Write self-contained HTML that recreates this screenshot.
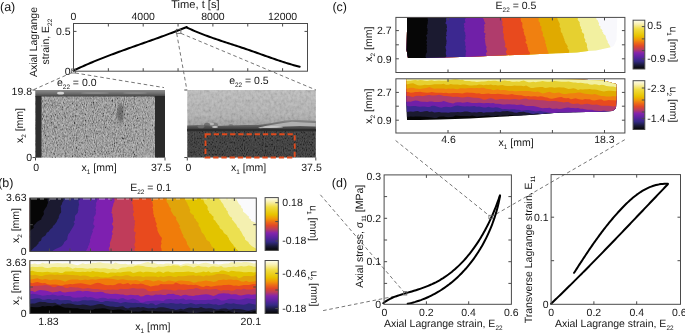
<!DOCTYPE html>
<html><head><meta charset="utf-8"><style>
html,body{margin:0;padding:0;background:#fff;}
svg{display:block;font-family:"Liberation Sans", sans-serif;text-rendering:geometricPrecision;will-change:transform;}
</style></head><body>
<svg width="685" height="333" viewBox="0 0 685 333">
<defs>
<linearGradient id="g2" x1="0" y1="0" x2="0" y2="1">
<stop offset="0" stop-color="#bababa"/><stop offset="0.6" stop-color="#acacac"/><stop offset="0.85" stop-color="#989898"/><stop offset="1" stop-color="#606060"/>
</linearGradient>
<linearGradient id="g1" x1="0" y1="0" x2="0" y2="1">
<stop offset="0" stop-color="#8a8a8a"/><stop offset="0.5" stop-color="#707070"/><stop offset="0.8" stop-color="#555"/><stop offset="1" stop-color="#404040"/>
</linearGradient>
<linearGradient id="g3" x1="0" y1="0" x2="0" y2="1">
<stop offset="0" stop-color="#8e8e8e"/><stop offset="0.45" stop-color="#6a6a6a"/><stop offset="0.8" stop-color="#404040"/><stop offset="1" stop-color="#2e2e2e"/>
</linearGradient>
<filter id="n1" x="0" y="0" width="100%" height="100%"><feTurbulence type="fractalNoise" baseFrequency="1.1 0.45" numOctaves="2" seed="3"/><feColorMatrix type="matrix" values="1.6 0 0 0 -0.3  1.6 0 0 0 -0.3  1.6 0 0 0 -0.3  0 0 0 0 1"/></filter>
<filter id="n2" x="0" y="0" width="100%" height="100%"><feTurbulence type="fractalNoise" baseFrequency="0.35 0.3" numOctaves="2" seed="8"/><feColorMatrix type="matrix" values="1.6 0 0 0 -0.2  1.6 0 0 0 -0.2  1.6 0 0 0 -0.2  0 0 0 0 1"/></filter>
<filter id="n3" x="0" y="0" width="100%" height="100%"><feTurbulence type="fractalNoise" baseFrequency="1.1 0.5" numOctaves="2" seed="11"/><feColorMatrix type="matrix" values="1.8 0 0 0 -0.5  1.8 0 0 0 -0.5  1.8 0 0 0 -0.5  0 0 0 0 1"/></filter>
<filter id="bl"><feGaussianBlur stdDeviation="1.2"/></filter>
<linearGradient id="cb" x1="0" y1="0" x2="0" y2="1">
<stop offset="0" stop-color="#fefef0"/><stop offset="0.08" stop-color="#f8f0b0"/><stop offset="0.18" stop-color="#f0dc40"/><stop offset="0.32" stop-color="#e8c400"/><stop offset="0.40" stop-color="#f09808"/><stop offset="0.47" stop-color="#ec6818"/><stop offset="0.53" stop-color="#e04828"/><stop offset="0.60" stop-color="#b83c60"/><stop offset="0.67" stop-color="#8424ac"/><stop offset="0.76" stop-color="#5a24a0"/><stop offset="0.84" stop-color="#342a84"/><stop offset="0.92" stop-color="#1a1a38"/><stop offset="1" stop-color="#050505"/>
</linearGradient>
</defs>
<text x="0.0" y="11.4" font-size="12.5" text-anchor="start" fill="#161616" >(a)</text>
<path d="M73.42,70.63 L75.29,69.75 L77.15,68.87 L79.02,68.01 L80.90,67.16 L82.78,66.31 L84.66,65.48 L86.55,64.66 L88.44,63.84 L90.34,63.04 L92.24,62.24 L94.14,61.45 L96.04,60.67 L97.95,59.90 L99.86,59.13 L101.78,58.37 L103.69,57.62 L105.61,56.87 L107.53,56.13 L109.46,55.40 L111.38,54.67 L113.31,53.94 L115.24,53.22 L117.17,52.51 L119.11,51.80 L121.04,51.09 L122.98,50.39 L124.92,49.69 L126.86,48.99 L128.79,48.29 L130.74,47.60 L132.68,46.91 L134.62,46.22 L136.56,45.53 L138.50,44.84 L140.45,44.15 L142.39,43.47 L144.33,42.78 L146.28,42.09 L148.22,41.40 L150.16,40.71 L152.10,40.02 L154.04,39.33 L155.98,38.63 L157.92,37.94 L159.86,37.24 L161.80,36.53 L163.73,35.83 L165.67,35.12 L167.60,34.40 L169.53,33.68 L171.46,32.96 L173.39,32.23 L175.31,31.50 L177.24,30.76 L179.16,30.02 L181.07,29.26 L182.99,28.51 L184.90,27.74 L186.81,26.97 L186.77,27.51 L188.61,28.36 L190.45,29.20 L192.31,30.02 L194.17,30.83 L196.04,31.62 L197.91,32.39 L199.79,33.14 L201.68,33.89 L203.57,34.61 L205.46,35.33 L207.36,36.04 L209.26,36.73 L211.17,37.41 L213.08,38.09 L215.00,38.76 L216.91,39.41 L218.83,40.07 L220.75,40.71 L222.68,41.36 L224.60,41.99 L226.53,42.63 L228.46,43.26 L230.39,43.89 L232.32,44.52 L234.25,45.15 L236.18,45.77 L238.11,46.41 L240.03,47.04 L241.96,47.68 L243.89,48.32 L245.81,48.96 L247.73,49.61 L249.66,50.27 L251.57,50.94 L253.49,51.61 L255.40,52.28 L257.32,52.96 L259.23,53.64 L261.14,54.33 L263.05,55.01 L264.96,55.70 L266.87,56.38 L268.78,57.06 L270.69,57.73 L272.60,58.41 L274.52,59.07 L276.43,59.73 L278.35,60.38 L280.27,61.03 L282.19,61.66 L284.12,62.28 L286.05,62.89 L287.98,63.48 L289.92,64.07 L291.86,64.63 L293.80,65.18 L295.75,65.72 L297.71,66.23 L299.67,66.73" stroke="#000" stroke-width="2" fill="none" stroke-linejoin="round" stroke-linecap="round" />
<rect x="73.5" y="23.5" width="234.0" height="47.7" fill="none" stroke="#4a4a4a" stroke-width="1" />
<line x1="108.35" y1="23.5" x2="108.35" y2="26.5" stroke="#4a4a4a" stroke-width="1"/>
<line x1="108.35" y1="71.2" x2="108.35" y2="68.2" stroke="#4a4a4a" stroke-width="1"/>
<line x1="143.2" y1="23.5" x2="143.2" y2="26.5" stroke="#4a4a4a" stroke-width="1"/>
<line x1="143.2" y1="71.2" x2="143.2" y2="68.2" stroke="#4a4a4a" stroke-width="1"/>
<line x1="178.05" y1="23.5" x2="178.05" y2="26.5" stroke="#4a4a4a" stroke-width="1"/>
<line x1="178.05" y1="71.2" x2="178.05" y2="68.2" stroke="#4a4a4a" stroke-width="1"/>
<line x1="212.9" y1="23.5" x2="212.9" y2="26.5" stroke="#4a4a4a" stroke-width="1"/>
<line x1="212.9" y1="71.2" x2="212.9" y2="68.2" stroke="#4a4a4a" stroke-width="1"/>
<line x1="247.75" y1="23.5" x2="247.75" y2="26.5" stroke="#4a4a4a" stroke-width="1"/>
<line x1="247.75" y1="71.2" x2="247.75" y2="68.2" stroke="#4a4a4a" stroke-width="1"/>
<line x1="282.6" y1="23.5" x2="282.6" y2="26.5" stroke="#4a4a4a" stroke-width="1"/>
<line x1="282.6" y1="71.2" x2="282.6" y2="68.2" stroke="#4a4a4a" stroke-width="1"/>
<line x1="73.5" y1="31.4" x2="76.5" y2="31.4" stroke="#4a4a4a" stroke-width="1"/>
<line x1="307.5" y1="31.4" x2="304.5" y2="31.4" stroke="#4a4a4a" stroke-width="1"/>
<text x="73.5" y="19.7" font-size="10.5" text-anchor="middle" fill="#161616" >0</text>
<text x="143.2" y="19.7" font-size="10.5" text-anchor="middle" fill="#161616" >4000</text>
<text x="212.9" y="19.7" font-size="10.5" text-anchor="middle" fill="#161616" >8000</text>
<text x="282.6" y="19.7" font-size="10.5" text-anchor="middle" fill="#161616" >12000</text>
<text x="195.4" y="7.6" font-size="11.13" text-anchor="middle" fill="#161616" >Time, t [s]</text>
<text x="70.5" y="35.0" font-size="10.5" text-anchor="end" fill="#161616" >0.5</text>
<text x="70.5" y="74.6" font-size="10.5" text-anchor="end" fill="#161616" >0</text>
<text x="37.2" y="42.0" font-size="10.5" text-anchor="middle" fill="#161616" transform="rotate(-90 37.2 42.0)" >Axial Lagrange</text>
<text x="49.0" y="41.6" font-size="10.5" text-anchor="middle" fill="#161616" transform="rotate(-90 49.0 41.6)" >strain, E<tspan font-size="6.4" dy="3">22</tspan></text>
<rect x="71.3" y="69" width="4.2" height="4" fill="none" stroke="#555" stroke-width="0.8" />
<rect x="176.3" y="29.3" width="4.6" height="4" fill="none" stroke="#555" stroke-width="0.8" />
<g>
<rect x="35.5" y="90" width="129.5" height="67.5" fill="#7e7e7e" />
<rect x="35.5" y="96" width="129.5" height="61.5" fill="#000" filter="url(#n1)" opacity="0.5"/>
<rect x="35.5" y="90" width="129.5" height="6.5" fill="url(#g1)"/>
<ellipse cx="60.6" cy="93.2" rx="3.5" ry="1.4" fill="#e8e8e8" opacity="0.85"/>
<ellipse cx="95" cy="93" rx="14" ry="1.0" fill="#a0a0a0" opacity="0.5"/>
<ellipse cx="135" cy="93" rx="12" ry="1.0" fill="#9a9a9a" opacity="0.5"/>
<ellipse cx="120.5" cy="113" rx="3.5" ry="9" fill="#303030" opacity="0.45" filter="url(#bl)"/>
<rect x="140" y="97" width="14" height="60.5" fill="#b8b8b8" opacity="0.15"/>
<rect x="35.5" y="96" width="6" height="61.5" fill="#2e2e2e" />
<rect x="155" y="96" width="10" height="61.5" fill="#2a2a2a" />
</g>
<g>
<rect x="187.3" y="90" width="128.5" height="42" fill="url(#g2)"/>
<rect x="187.3" y="90" width="128.5" height="38" fill="#000" filter="url(#n2)" opacity="0.16"/>
<polygon points="187.3,125.5 200,125 215,126 230,125.5 245,125 258,125 262,124.5 272,123 285,120.5 295,119.8 305,120.3 315.8,121 315.8,131 187.3,131" fill="url(#g3)"/>
<polygon points="258,127.5 268,125.5 280,123.5 292,121.8 300,122.3 315.8,123 315.8,126.5 300,126 285,126.5 270,127.5 260,128.2" fill="#b0b0b0"/>
<ellipse cx="214" cy="125" rx="4" ry="2.5" fill="#707070" opacity="0.7"/>
<ellipse cx="212" cy="124" rx="2" ry="1.2" fill="#d0d0d0" opacity="0.7"/>
<ellipse cx="215" cy="127" rx="3" ry="1.0" fill="#dcdcdc" opacity="0.8"/>
<ellipse cx="201" cy="126.5" rx="3.5" ry="1.8" fill="#787878" opacity="0.7"/>
<rect x="187.3" y="129" width="128.5" height="28.5" fill="#2e2e2e"/>
<rect x="187.3" y="131" width="128.5" height="26.5" fill="#000" filter="url(#n3)" opacity="0.17"/>
<rect x="187.3" y="129.5" width="128.5" height="2" fill="#262626" opacity="0.35"/>
<ellipse cx="273" cy="127.2" rx="10" ry="0.9" fill="#e0e0e0" opacity="0.7"/>
<ellipse cx="207" cy="124.8" rx="3" ry="2" fill="#505050" opacity="0.6"/>
<ellipse cx="231" cy="125.5" rx="2.5" ry="1.6" fill="#555" opacity="0.5"/>
</g>
<rect x="205.5" y="134.3" width="89.2" height="23.2" fill="none" stroke="#e04a1c" stroke-width="1.9" stroke-dasharray="5.3 2.9"/>
<line x1="32.5" y1="90" x2="35.5" y2="90" stroke="#4a4a4a" stroke-width="1"/>
<line x1="32.5" y1="157.5" x2="35.5" y2="157.5" stroke="#4a4a4a" stroke-width="1"/>
<line x1="35.5" y1="157.5" x2="35.5" y2="160.5" stroke="#4a4a4a" stroke-width="1"/>
<line x1="165" y1="157.5" x2="165" y2="160.5" stroke="#4a4a4a" stroke-width="1"/>
<line x1="184.3" y1="90" x2="187.3" y2="90" stroke="#4a4a4a" stroke-width="1"/>
<line x1="184.3" y1="157.5" x2="187.3" y2="157.5" stroke="#4a4a4a" stroke-width="1"/>
<line x1="187.3" y1="157.5" x2="187.3" y2="160.5" stroke="#4a4a4a" stroke-width="1"/>
<line x1="315.8" y1="157.5" x2="315.8" y2="160.5" stroke="#4a4a4a" stroke-width="1"/>
<text x="32" y="94.8" font-size="10.5" text-anchor="end" fill="#161616" >19.8</text>
<text x="32" y="161.3" font-size="10.5" text-anchor="end" fill="#161616" >0</text>
<text x="36.2" y="171.3" font-size="10.5" text-anchor="middle" fill="#161616" >0</text>
<text x="161.2" y="171.3" font-size="10.5" text-anchor="middle" fill="#161616" >37.5</text>
<text x="188.5" y="171.3" font-size="10.5" text-anchor="middle" fill="#161616" >0</text>
<text x="311.5" y="171.3" font-size="10.5" text-anchor="middle" fill="#161616" >37.5</text>
<text x="81.6" y="171" font-size="10.5" text-anchor="start" fill="#161616" >x<tspan font-size="6.4" dy="3">1</tspan><tspan dy="-3"> [mm]</tspan></text>
<text x="231" y="171" font-size="10.5" text-anchor="start" fill="#161616" >x<tspan font-size="6.4" dy="3">1</tspan><tspan dy="-3"> [mm]</tspan></text>
<text x="23" y="125.5" font-size="10.5" text-anchor="middle" fill="#161616" transform="rotate(-90 23 125.5)" >x<tspan font-size="6.4" dy="3">2</tspan><tspan dy="-3"> [mm]</tspan></text>
<text x="57" y="85.8" font-size="10.5" text-anchor="start" fill="#161616" >e<tspan font-size="6.4" dy="3">22</tspan><tspan dy="-3"> = 0.0</tspan></text>
<text x="229.2" y="84.4" font-size="10.5" text-anchor="start" fill="#161616" >e<tspan font-size="6.4" dy="3">22</tspan><tspan dy="-3"> = 0.5</tspan></text>
<line x1="71.5" y1="72.8" x2="34" y2="89.5" stroke="#666" stroke-width="0.9" stroke-dasharray="3.6 2.7"/>
<line x1="75.3" y1="73" x2="164" y2="87.6" stroke="#666" stroke-width="0.9" stroke-dasharray="3.6 2.7"/>
<line x1="176.7" y1="33.5" x2="186.8" y2="89.5" stroke="#666" stroke-width="0.9" stroke-dasharray="3.6 2.7"/>
<line x1="181" y1="33.4" x2="316" y2="90" stroke="#666" stroke-width="0.9" stroke-dasharray="3.6 2.7"/>
<text x="-1.8" y="186.8" font-size="12.5" text-anchor="start" fill="#161616" >(b)</text>
<text x="130.3" y="191.2" font-size="10.5" text-anchor="start" fill="#161616" >E<tspan font-size="6.4" dy="3">22</tspan><tspan dy="-3"> = 0.1</tspan></text>
<rect x="29.9" y="198.0" width="226.4" height="53.5" fill="#fafafc" />
<polygon points="29.9,198.0 235.5,198.0 236.6,199.3 237.2,200.7 237.9,202.0 238.5,203.3 239.7,204.7 241.2,206.0 241.1,207.4 242.7,208.7 243.1,210.0 242.9,211.4 244.5,212.7 246.1,214.1 247.4,215.4 249.2,216.7 248.6,218.1 251.0,219.4 251.0,220.7 254.0,222.1 256.3,223.4 256.3,224.8 256.3,226.1 256.3,227.4 256.3,228.8 256.3,230.1 256.3,231.4 256.3,232.8 256.3,234.1 256.3,235.4 256.3,236.8 256.3,238.1 256.3,239.5 256.3,240.8 256.3,242.1 256.3,243.5 256.3,244.8 256.3,246.2 256.3,247.5 256.3,248.8 256.3,250.2 256.3,251.5 29.9,251.5" fill="#f4f0b0" />
<polygon points="29.9,198.0 220.4,198.0 220.1,199.3 220.7,200.7 221.4,202.0 222.5,203.3 223.5,204.7 223.8,206.0 224.7,207.4 226.2,208.7 226.2,210.0 227.9,211.4 227.7,212.7 228.4,214.1 229.3,215.4 230.3,216.7 232.2,218.1 231.9,219.4 233.2,220.7 234.1,222.1 235.4,223.4 236.5,224.8 236.9,226.1 237.8,227.4 239.7,228.8 239.7,230.1 241.1,231.4 241.7,232.8 242.4,234.1 243.0,235.4 244.2,236.8 245.0,238.1 245.0,239.5 246.5,240.8 248.4,242.1 249.0,243.5 250.3,244.8 252.0,246.2 254.1,247.5 256.3,248.8 256.3,250.2 256.3,251.5 29.9,251.5" fill="#ece050" />
<polygon points="29.9,198.0 202.9,198.0 203.6,199.3 203.5,200.7 204.2,202.0 204.5,203.3 206.3,204.7 207.2,206.0 207.8,207.4 207.5,208.7 207.8,210.0 209.2,211.4 209.0,212.7 211.0,214.1 212.0,215.4 213.7,216.7 213.4,218.1 213.5,219.4 215.4,220.7 215.9,222.1 217.2,223.4 217.9,224.8 219.3,226.1 219.5,227.4 220.4,228.8 222.3,230.1 223.2,231.4 223.7,232.8 225.1,234.1 227.4,235.4 227.6,236.8 228.8,238.1 229.0,239.5 230.0,240.8 230.8,242.1 232.0,243.5 233.3,244.8 233.8,246.2 235.7,247.5 236.0,248.8 237.9,250.2 237.9,251.5 29.9,251.5" fill="#e2c400" />
<polygon points="29.9,198.0 184.9,198.0 185.1,199.3 185.7,200.7 186.5,202.0 187.3,203.3 187.8,204.7 188.4,206.0 189.4,207.4 189.4,208.7 190.4,210.0 189.7,211.4 190.4,212.7 191.8,214.1 194.0,215.4 193.9,216.7 194.1,218.1 196.0,219.4 196.1,220.7 197.4,222.1 198.7,223.4 198.5,224.8 198.6,226.1 200.1,227.4 200.5,228.8 201.0,230.1 201.4,231.4 202.1,232.8 203.5,234.1 204.6,235.4 205.0,236.8 205.9,238.1 206.2,239.5 207.7,240.8 209.9,242.1 210.1,243.5 211.2,244.8 211.4,246.2 213.2,247.5 213.5,248.8 214.4,250.2 215.4,251.5 29.9,251.5" fill="#e0a40a" />
<polygon points="29.9,198.0 164.5,198.0 165.8,199.3 166.7,200.7 166.6,202.0 167.8,203.3 168.6,204.7 168.9,206.0 169.9,207.4 171.2,208.7 170.5,210.0 171.3,211.4 172.1,212.7 172.8,214.1 173.8,215.4 175.7,216.7 176.3,218.1 176.0,219.4 176.9,220.7 177.6,222.1 178.6,223.4 179.0,224.8 180.2,226.1 179.1,227.4 180.5,228.8 180.7,230.1 181.5,231.4 181.8,232.8 182.5,234.1 183.4,235.4 183.2,236.8 184.2,238.1 185.6,239.5 186.0,240.8 186.8,242.1 186.9,243.5 187.4,244.8 188.6,246.2 189.2,247.5 190.5,248.8 190.1,250.2 190.3,251.5 29.9,251.5" fill="#f07c0a" />
<polygon points="29.9,198.0 151.2,198.0 151.7,199.3 151.1,200.7 152.5,202.0 152.6,203.3 152.9,204.7 153.2,206.0 152.2,207.4 153.1,208.7 152.9,210.0 153.4,211.4 153.2,212.7 153.4,214.1 154.1,215.4 153.7,216.7 155.3,218.1 155.1,219.4 155.5,220.7 155.7,222.1 156.7,223.4 156.6,224.8 156.0,226.1 157.1,227.4 157.5,228.8 157.2,230.1 157.9,231.4 158.4,232.8 159.1,234.1 159.9,235.4 160.9,236.8 162.0,238.1 161.7,239.5 161.4,240.8 161.0,242.1 161.7,243.5 161.0,244.8 160.8,246.2 160.8,247.5 161.5,248.8 161.5,250.2 162.1,251.5 29.9,251.5" fill="#e84a1e" />
<polygon points="29.9,198.0 132.7,198.0 131.9,199.3 133.0,200.7 132.5,202.0 131.9,203.3 133.0,204.7 133.0,206.0 133.4,207.4 133.1,208.7 133.1,210.0 134.1,211.4 133.5,212.7 133.0,214.1 133.0,215.4 134.0,216.7 134.1,218.1 133.7,219.4 135.2,220.7 134.9,222.1 134.6,223.4 135.0,224.8 134.3,226.1 134.5,227.4 134.2,228.8 133.6,230.1 134.3,231.4 135.9,232.8 135.4,234.1 135.1,235.4 134.8,236.8 134.9,238.1 135.2,239.5 135.3,240.8 135.4,242.1 134.7,243.5 134.3,244.8 134.7,246.2 135.5,247.5 134.3,248.8 134.8,250.2 135.5,251.5 29.9,251.5" fill="#c03c5a" />
<polygon points="29.9,198.0 114.2,198.0 114.3,199.3 114.6,200.7 114.3,202.0 113.5,203.3 113.2,204.7 113.0,206.0 112.3,207.4 112.2,208.7 111.7,210.0 111.9,211.4 111.2,212.7 112.5,214.1 112.4,215.4 112.4,216.7 113.0,218.1 112.9,219.4 113.2,220.7 113.1,222.1 112.1,223.4 112.2,224.8 113.1,226.1 113.4,227.4 112.9,228.8 112.8,230.1 111.9,231.4 112.3,232.8 112.8,234.1 111.8,235.4 111.8,236.8 111.7,238.1 111.1,239.5 110.7,240.8 110.2,242.1 109.7,243.5 110.1,244.8 109.9,246.2 109.2,247.5 108.7,248.8 109.5,250.2 109.3,251.5 29.9,251.5" fill="#7e20b0" />
<polygon points="29.9,198.0 96.4,198.0 97.3,199.3 97.2,200.7 96.5,202.0 95.9,203.3 96.2,204.7 96.1,206.0 95.4,207.4 95.8,208.7 96.2,210.0 95.6,211.4 95.9,212.7 95.8,214.1 95.0,215.4 94.1,216.7 93.5,218.1 94.4,219.4 93.9,220.7 93.6,222.1 93.2,223.4 93.5,224.8 94.8,226.1 94.0,227.4 93.5,228.8 92.3,230.1 93.0,231.4 92.3,232.8 91.8,234.1 91.3,235.4 90.6,236.8 90.8,238.1 89.9,239.5 90.0,240.8 90.1,242.1 89.2,243.5 89.2,244.8 88.0,246.2 88.1,247.5 87.2,248.8 86.3,250.2 85.8,251.5 29.9,251.5" fill="#5525a0" />
<polygon points="29.9,198.0 79.8,198.0 80.3,199.3 78.5,200.7 78.7,202.0 78.8,203.3 79.2,204.7 78.6,206.0 78.4,207.4 78.1,208.7 78.4,210.0 77.9,211.4 77.8,212.7 76.7,214.1 75.2,215.4 74.9,216.7 74.9,218.1 75.1,219.4 74.7,220.7 73.5,222.1 74.7,223.4 74.1,224.8 73.6,226.1 72.7,227.4 71.9,228.8 71.2,230.1 70.2,231.4 69.7,232.8 68.4,234.1 67.9,235.4 67.5,236.8 67.4,238.1 67.2,239.5 65.8,240.8 64.3,242.1 63.7,243.5 62.9,244.8 61.5,246.2 59.1,247.5 56.1,248.8 53.4,250.2 52.0,251.5 29.9,251.5" fill="#2e2878" />
<polygon points="29.9,198.0 64.1,198.0 63.3,199.3 63.6,200.7 62.5,202.0 62.1,203.3 61.7,204.7 60.6,206.0 60.9,207.4 61.1,208.7 61.0,210.0 61.2,211.4 61.0,212.7 59.8,214.1 59.2,215.4 58.7,216.7 58.8,218.1 57.6,219.4 57.1,220.7 56.6,222.1 55.4,223.4 54.5,224.8 52.9,226.1 52.6,227.4 51.0,228.8 49.7,230.1 48.9,231.4 46.7,232.8 46.2,234.1 45.4,235.4 43.3,236.8 41.7,238.1 41.4,239.5 40.9,240.8 38.7,242.1 38.5,243.5 37.2,244.8 36.1,246.2 34.2,247.5 33.1,248.8 31.6,250.2 29.9,251.5 29.9,251.5" fill="#1b1a30" />
<polygon points="29.9,198.0 47.4,198.0 47.6,199.3 47.5,200.7 48.0,202.0 47.9,203.3 47.1,204.7 47.0,206.0 45.9,207.4 45.1,208.7 44.4,210.0 43.5,211.4 43.7,212.7 44.0,214.1 43.1,215.4 42.3,216.7 41.5,218.1 41.3,219.4 38.8,220.7 36.9,222.1 35.7,223.4 34.4,224.8 33.2,226.1 33.9,227.4 32.7,228.8 30.7,230.1 29.9,231.4 29.9,232.8 29.9,234.1 29.9,235.4 30.2,236.8 29.9,238.1 29.9,239.5 29.9,240.8 29.9,242.1 29.9,243.5 29.9,244.8 29.9,246.2 29.9,247.5 29.9,248.8 29.9,250.2 29.9,251.5 29.9,251.5" fill="#060606" />
<rect x="29.9" y="260.6" width="226.4" height="52.89999999999998" fill="#060606" />
<polygon points="29.9,260.6 29.9,306.8 32.4,306.9 34.9,307.2 37.4,307.3 40.0,307.1 42.5,306.1 45.0,306.5 47.5,305.9 50.0,306.1 52.5,306.6 55.1,305.4 57.6,305.2 60.1,306.0 62.6,307.1 65.1,307.8 67.6,307.7 70.1,307.9 72.7,308.3 75.2,308.3 77.7,308.2 80.2,308.9 82.7,309.0 85.2,309.4 87.8,309.4 90.3,309.7 92.8,309.8 95.3,308.7 97.8,308.7 100.3,308.6 102.9,308.2 105.4,308.4 107.9,309.3 110.4,309.7 112.9,310.1 115.4,309.7 117.9,309.4 120.5,309.4 123.0,310.0 125.5,310.7 128.0,310.3 130.5,310.8 133.0,311.7 135.6,311.6 138.1,311.7 140.6,311.4 143.1,310.4 145.6,310.7 148.1,311.3 150.6,311.2 153.2,311.3 155.7,311.3 158.2,311.6 160.7,311.6 163.2,311.8 165.7,311.6 168.3,311.6 170.8,311.6 173.3,311.5 175.8,311.5 178.3,311.7 180.8,311.3 183.3,311.5 185.9,311.7 188.4,312.5 190.9,312.8 193.4,312.6 195.9,312.9 198.4,312.5 201.0,312.0 203.5,311.7 206.0,311.4 208.5,311.6 211.0,312.1 213.5,312.0 216.1,311.3 218.6,311.1 221.1,310.8 223.6,311.1 226.1,311.8 228.6,311.1 231.1,311.8 233.7,312.8 236.2,311.9 238.7,312.5 241.2,312.4 243.7,312.5 246.2,312.0 248.8,311.5 251.3,311.9 253.8,311.3 256.3,310.7 256.3,260.6" fill="#1b1a30" />
<polygon points="29.9,260.6 29.9,303.7 32.4,303.4 34.9,303.5 37.4,302.6 40.0,301.7 42.5,302.1 45.0,302.0 47.5,302.8 50.0,303.1 52.5,302.9 55.1,302.8 57.6,304.3 60.1,304.8 62.6,303.4 65.1,303.9 67.6,303.4 70.1,303.5 72.7,304.1 75.2,304.7 77.7,305.1 80.2,305.0 82.7,304.6 85.2,304.7 87.8,305.2 90.3,305.7 92.8,305.5 95.3,305.0 97.8,304.3 100.3,304.1 102.9,304.3 105.4,305.5 107.9,306.1 110.4,306.6 112.9,306.6 115.4,306.9 117.9,306.9 120.5,306.5 123.0,306.2 125.5,308.0 128.0,308.6 130.5,307.4 133.0,307.6 135.6,307.6 138.1,307.1 140.6,307.4 143.1,307.1 145.6,307.8 148.1,308.3 150.6,308.3 153.2,308.0 155.7,308.5 158.2,307.5 160.7,307.3 163.2,307.2 165.7,307.8 168.3,308.3 170.8,308.9 173.3,309.0 175.8,310.0 178.3,309.4 180.8,308.7 183.3,309.5 185.9,308.6 188.4,307.7 190.9,307.5 193.4,308.0 195.9,308.1 198.4,308.0 201.0,307.0 203.5,307.9 206.0,308.4 208.5,308.2 211.0,308.2 213.5,308.7 216.1,309.4 218.6,309.6 221.1,308.8 223.6,308.6 226.1,308.5 228.6,309.4 231.1,309.6 233.7,308.8 236.2,309.1 238.7,309.1 241.2,309.3 243.7,309.7 246.2,310.5 248.8,310.8 251.3,310.0 253.8,309.5 256.3,309.6 256.3,260.6" fill="#2e2878" />
<polygon points="29.9,260.6 29.9,299.3 32.4,299.1 34.9,298.4 37.4,298.2 40.0,298.4 42.5,299.7 45.0,299.7 47.5,298.9 50.0,299.0 52.5,300.0 55.1,299.4 57.6,299.2 60.1,300.2 62.6,300.3 65.1,300.1 67.6,300.0 70.1,300.3 72.7,301.7 75.2,301.2 77.7,301.5 80.2,301.0 82.7,300.3 85.2,300.3 87.8,300.6 90.3,300.2 92.8,300.2 95.3,300.7 97.8,301.1 100.3,301.9 102.9,301.9 105.4,301.1 107.9,301.0 110.4,301.5 112.9,301.6 115.4,302.1 117.9,302.3 120.5,303.2 123.0,302.6 125.5,302.0 128.0,302.5 130.5,302.8 133.0,303.1 135.6,302.8 138.1,303.2 140.6,303.0 143.1,303.5 145.6,303.7 148.1,304.4 150.6,303.3 153.2,303.6 155.7,305.3 158.2,304.3 160.7,303.2 163.2,303.0 165.7,303.6 168.3,303.4 170.8,303.1 173.3,303.2 175.8,303.8 178.3,303.7 180.8,303.3 183.3,303.9 185.9,304.0 188.4,303.8 190.9,303.0 193.4,303.7 195.9,304.5 198.4,304.1 201.0,303.7 203.5,304.0 206.0,304.0 208.5,303.4 211.0,303.9 213.5,304.6 216.1,304.2 218.6,305.2 221.1,304.7 223.6,304.2 226.1,303.0 228.6,303.4 231.1,303.7 233.7,303.2 236.2,304.1 238.7,304.2 241.2,304.4 243.7,304.8 246.2,304.2 248.8,303.2 251.3,303.7 253.8,304.2 256.3,304.8 256.3,260.6" fill="#5525a0" />
<polygon points="29.9,260.6 29.9,294.4 32.4,293.7 34.9,293.9 37.4,294.5 40.0,295.0 42.5,295.8 45.0,295.6 47.5,295.1 50.0,295.3 52.5,294.6 55.1,295.1 57.6,295.7 60.1,295.6 62.6,294.9 65.1,295.9 67.6,296.0 70.1,296.0 72.7,297.5 75.2,297.7 77.7,297.6 80.2,297.6 82.7,297.2 85.2,296.6 87.8,297.5 90.3,297.0 92.8,297.5 95.3,298.6 97.8,298.7 100.3,297.9 102.9,297.8 105.4,298.1 107.9,299.1 110.4,298.4 112.9,298.7 115.4,298.7 117.9,299.7 120.5,298.4 123.0,298.1 125.5,299.3 128.0,300.0 130.5,299.3 133.0,298.5 135.6,299.5 138.1,300.6 140.6,302.4 143.1,302.4 145.6,301.5 148.1,300.9 150.6,301.1 153.2,300.7 155.7,300.6 158.2,300.6 160.7,300.7 163.2,301.3 165.7,299.4 168.3,298.9 170.8,299.1 173.3,299.7 175.8,299.1 178.3,299.4 180.8,299.0 183.3,298.6 185.9,300.0 188.4,299.6 190.9,299.5 193.4,300.1 195.9,300.0 198.4,300.2 201.0,300.0 203.5,299.9 206.0,300.1 208.5,299.7 211.0,300.1 213.5,299.2 216.1,298.6 218.6,299.3 221.1,300.4 223.6,300.5 226.1,300.0 228.6,299.0 231.1,298.8 233.7,299.1 236.2,299.6 238.7,299.7 241.2,299.5 243.7,299.1 246.2,298.3 248.8,298.5 251.3,299.0 253.8,299.0 256.3,298.6 256.3,260.6" fill="#7e20b0" />
<polygon points="29.9,260.6 29.9,290.7 32.4,290.9 34.9,292.0 37.4,290.8 40.0,290.1 42.5,290.2 45.0,290.5 47.5,291.1 50.0,291.7 52.5,292.5 55.1,291.9 57.6,291.7 60.1,291.0 62.6,292.2 65.1,292.5 67.6,291.9 70.1,291.8 72.7,291.7 75.2,291.4 77.7,290.8 80.2,290.8 82.7,291.5 85.2,291.0 87.8,291.1 90.3,291.4 92.8,292.1 95.3,292.2 97.8,292.0 100.3,291.7 102.9,291.9 105.4,293.3 107.9,293.6 110.4,294.0 112.9,294.1 115.4,293.8 117.9,294.1 120.5,294.5 123.0,294.4 125.5,295.3 128.0,295.3 130.5,294.8 133.0,295.1 135.6,295.2 138.1,295.0 140.6,296.5 143.1,296.3 145.6,295.1 148.1,294.8 150.6,295.5 153.2,295.5 155.7,294.6 158.2,294.8 160.7,294.4 163.2,294.9 165.7,295.0 168.3,293.8 170.8,293.9 173.3,293.8 175.8,294.8 178.3,294.9 180.8,296.0 183.3,295.0 185.9,294.8 188.4,295.5 190.9,295.8 193.4,296.1 195.9,295.3 198.4,295.2 201.0,294.8 203.5,294.6 206.0,294.2 208.5,294.5 211.0,295.2 213.5,295.9 216.1,294.9 218.6,293.8 221.1,293.6 223.6,293.3 226.1,293.6 228.6,293.6 231.1,294.6 233.7,294.3 236.2,294.3 238.7,295.3 241.2,295.4 243.7,295.0 246.2,294.6 248.8,294.2 251.3,294.8 253.8,294.5 256.3,294.2 256.3,260.6" fill="#c03c5a" />
<polygon points="29.9,260.6 29.9,286.4 32.4,286.2 34.9,285.8 37.4,285.7 40.0,285.6 42.5,285.6 45.0,284.9 47.5,285.3 50.0,285.7 52.5,286.9 55.1,287.2 57.6,286.1 60.1,286.0 62.6,286.3 65.1,287.7 67.6,287.9 70.1,287.1 72.7,287.2 75.2,287.6 77.7,287.4 80.2,288.0 82.7,288.8 85.2,288.4 87.8,288.0 90.3,288.4 92.8,288.9 95.3,289.0 97.8,288.9 100.3,289.5 102.9,289.7 105.4,290.1 107.9,289.4 110.4,289.7 112.9,289.4 115.4,289.8 117.9,289.7 120.5,288.7 123.0,289.0 125.5,289.1 128.0,289.1 130.5,288.6 133.0,287.9 135.6,288.4 138.1,288.8 140.6,288.6 143.1,288.4 145.6,288.9 148.1,291.0 150.6,291.6 153.2,291.0 155.7,290.9 158.2,290.8 160.7,290.0 163.2,289.5 165.7,289.4 168.3,289.8 170.8,289.8 173.3,290.5 175.8,290.5 178.3,289.5 180.8,289.7 183.3,290.0 185.9,289.7 188.4,289.3 190.9,289.1 193.4,289.1 195.9,288.1 198.4,288.5 201.0,289.4 203.5,289.4 206.0,289.1 208.5,289.6 211.0,289.5 213.5,289.3 216.1,289.1 218.6,290.1 221.1,290.8 223.6,290.0 226.1,290.3 228.6,290.1 231.1,290.8 233.7,290.4 236.2,289.2 238.7,289.2 241.2,289.7 243.7,288.8 246.2,289.6 248.8,289.6 251.3,289.6 253.8,288.7 256.3,288.3 256.3,260.6" fill="#e84a1e" />
<polygon points="29.9,260.6 29.9,282.6 32.4,283.2 34.9,282.5 37.4,282.0 40.0,282.8 42.5,283.3 45.0,283.0 47.5,284.3 50.0,284.8 52.5,284.6 55.1,284.6 57.6,284.7 60.1,285.4 62.6,285.4 65.1,284.6 67.6,284.5 70.1,283.9 72.7,284.2 75.2,283.8 77.7,283.6 80.2,283.3 82.7,283.5 85.2,284.0 87.8,284.6 90.3,284.9 92.8,284.2 95.3,283.2 97.8,282.7 100.3,283.3 102.9,284.3 105.4,285.1 107.9,285.2 110.4,285.1 112.9,285.2 115.4,284.8 117.9,283.5 120.5,283.3 123.0,284.2 125.5,283.7 128.0,283.0 130.5,284.8 133.0,283.8 135.6,284.1 138.1,284.3 140.6,283.5 143.1,284.1 145.6,285.1 148.1,285.4 150.6,286.5 153.2,286.0 155.7,285.5 158.2,285.4 160.7,284.1 163.2,284.3 165.7,284.2 168.3,284.2 170.8,284.3 173.3,284.3 175.8,282.5 178.3,283.5 180.8,284.4 183.3,284.3 185.9,284.4 188.4,285.0 190.9,284.7 193.4,284.9 195.9,284.7 198.4,285.5 201.0,286.6 203.5,287.1 206.0,285.8 208.5,286.1 211.0,286.8 213.5,286.2 216.1,285.7 218.6,285.5 221.1,285.5 223.6,284.9 226.1,285.1 228.6,284.7 231.1,284.9 233.7,285.7 236.2,285.4 238.7,286.1 241.2,285.6 243.7,285.1 246.2,284.9 248.8,284.9 251.3,284.4 253.8,284.0 256.3,284.2 256.3,260.6" fill="#f07c0a" />
<polygon points="29.9,260.6 29.9,279.5 32.4,279.3 34.9,278.8 37.4,278.2 40.0,279.2 42.5,279.7 45.0,279.1 47.5,279.4 50.0,280.3 52.5,279.7 55.1,279.5 57.6,279.7 60.1,280.0 62.6,280.7 65.1,281.8 67.6,280.6 70.1,279.7 72.7,279.6 75.2,279.4 77.7,279.6 80.2,280.2 82.7,280.0 85.2,279.4 87.8,279.9 90.3,279.5 92.8,279.2 95.3,279.8 97.8,279.2 100.3,278.7 102.9,278.8 105.4,278.5 107.9,278.5 110.4,278.8 112.9,278.9 115.4,279.4 117.9,280.1 120.5,279.5 123.0,279.2 125.5,279.8 128.0,280.3 130.5,280.3 133.0,280.6 135.6,280.0 138.1,280.5 140.6,281.6 143.1,281.1 145.6,279.8 148.1,280.0 150.6,280.4 153.2,281.5 155.7,281.1 158.2,280.3 160.7,280.7 163.2,281.7 165.7,281.5 168.3,280.4 170.8,280.8 173.3,281.3 175.8,281.7 178.3,280.7 180.8,280.4 183.3,280.8 185.9,281.1 188.4,281.1 190.9,281.4 193.4,282.8 195.9,282.5 198.4,281.5 201.0,281.5 203.5,280.9 206.0,280.6 208.5,281.0 211.0,281.3 213.5,282.1 216.1,281.4 218.6,280.1 221.1,280.0 223.6,279.6 226.1,280.1 228.6,279.5 231.1,279.6 233.7,280.0 236.2,279.8 238.7,280.2 241.2,281.4 243.7,281.7 246.2,280.8 248.8,281.9 251.3,281.8 253.8,281.4 256.3,281.1 256.3,260.6" fill="#e0a40a" />
<polygon points="29.9,260.6 29.9,274.9 32.4,275.3 34.9,274.8 37.4,275.3 40.0,276.1 42.5,275.9 45.0,275.1 47.5,274.7 50.0,274.5 52.5,274.5 55.1,275.0 57.6,274.5 60.1,274.9 62.6,274.7 65.1,274.5 67.6,274.7 70.1,275.1 72.7,275.0 75.2,275.2 77.7,275.3 80.2,276.0 82.7,275.6 85.2,275.4 87.8,276.0 90.3,277.1 92.8,277.2 95.3,276.5 97.8,276.4 100.3,277.2 102.9,277.4 105.4,277.2 107.9,277.4 110.4,277.1 112.9,276.3 115.4,275.4 117.9,276.0 120.5,276.3 123.0,276.1 125.5,275.3 128.0,275.3 130.5,276.2 133.0,276.8 135.6,276.3 138.1,276.2 140.6,276.3 143.1,277.3 145.6,276.6 148.1,276.6 150.6,276.5 153.2,276.4 155.7,276.4 158.2,277.3 160.7,276.2 163.2,277.1 165.7,276.5 168.3,276.0 170.8,276.0 173.3,276.8 175.8,277.1 178.3,276.0 180.8,276.2 183.3,276.3 185.9,276.1 188.4,275.4 190.9,275.4 193.4,275.2 195.9,276.0 198.4,275.4 201.0,275.7 203.5,276.4 206.0,275.2 208.5,275.7 211.0,275.5 213.5,275.2 216.1,274.3 218.6,273.8 221.1,273.9 223.6,274.0 226.1,274.6 228.6,275.1 231.1,276.4 233.7,276.6 236.2,276.3 238.7,278.3 241.2,277.6 243.7,276.0 246.2,276.1 248.8,276.0 251.3,276.2 253.8,275.7 256.3,274.3 256.3,260.6" fill="#e2c400" />
<polygon points="29.9,260.6 29.9,271.2 32.4,270.8 34.9,271.5 37.4,271.9 40.0,272.0 42.5,272.2 45.0,272.0 47.5,271.7 50.0,272.2 52.5,272.5 55.1,272.3 57.6,272.2 60.1,272.9 62.6,272.9 65.1,271.6 67.6,271.5 70.1,271.4 72.7,271.3 75.2,271.8 77.7,271.9 80.2,272.0 82.7,271.7 85.2,272.1 87.8,271.4 90.3,271.9 92.8,271.0 95.3,271.7 97.8,271.8 100.3,272.3 102.9,272.0 105.4,272.7 107.9,273.5 110.4,272.5 112.9,272.4 115.4,272.7 117.9,272.3 120.5,272.6 123.0,272.0 125.5,271.7 128.0,271.5 130.5,271.6 133.0,272.9 135.6,272.5 138.1,271.7 140.6,271.4 143.1,272.4 145.6,271.7 148.1,271.7 150.6,271.9 153.2,272.3 155.7,272.7 158.2,271.4 160.7,271.7 163.2,272.9 165.7,271.8 168.3,271.6 170.8,272.2 173.3,272.5 175.8,272.0 178.3,272.0 180.8,272.0 183.3,272.0 185.9,271.8 188.4,271.5 190.9,271.9 193.4,272.0 195.9,273.0 198.4,272.5 201.0,272.3 203.5,271.6 206.0,272.2 208.5,271.2 211.0,272.7 213.5,272.2 216.1,272.0 218.6,271.9 221.1,270.6 223.6,270.6 226.1,271.3 228.6,272.0 231.1,270.8 233.7,270.9 236.2,271.6 238.7,271.6 241.2,271.7 243.7,272.3 246.2,272.3 248.8,271.9 251.3,271.9 253.8,272.5 256.3,272.0 256.3,260.6" fill="#ece050" />
<polygon points="29.9,260.6 29.9,267.6 32.4,266.7 34.9,267.0 37.4,267.1 40.0,266.8 42.5,266.7 45.0,267.8 47.5,268.0 50.0,267.7 52.5,267.1 55.1,267.0 57.6,267.3 60.1,267.1 62.6,267.3 65.1,267.3 67.6,266.7 70.1,267.6 72.7,268.7 75.2,267.7 77.7,268.0 80.2,267.9 82.7,268.1 85.2,268.6 87.8,268.7 90.3,268.2 92.8,268.4 95.3,267.9 97.8,268.2 100.3,268.5 102.9,268.3 105.4,268.2 107.9,268.7 110.4,269.2 112.9,268.5 115.4,268.9 117.9,269.4 120.5,268.1 123.0,267.5 125.5,267.4 128.0,266.7 130.5,266.7 133.0,266.7 135.6,265.8 138.1,265.5 140.6,265.7 143.1,266.0 145.6,266.7 148.1,267.0 150.6,267.0 153.2,267.5 155.7,267.6 158.2,266.5 160.7,266.8 163.2,266.8 165.7,266.3 168.3,265.8 170.8,265.9 173.3,265.3 175.8,265.5 178.3,265.6 180.8,266.7 183.3,266.0 185.9,265.4 188.4,266.1 190.9,266.6 193.4,267.4 195.9,266.6 198.4,265.8 201.0,266.6 203.5,266.8 206.0,266.7 208.5,267.6 211.0,266.4 213.5,266.3 216.1,266.7 218.6,266.7 221.1,266.1 223.6,267.4 226.1,267.4 228.6,267.0 231.1,266.9 233.7,266.4 236.2,267.0 238.7,266.4 241.2,266.1 243.7,266.4 246.2,266.2 248.8,265.5 251.3,266.1 253.8,266.7 256.3,266.7 256.3,260.6" fill="#f4f0b0" />
<polygon points="29.9,260.6 29.9,264.2 32.4,264.1 34.9,263.5 37.4,264.3 40.0,264.1 42.5,262.8 45.0,263.4 47.5,263.2 50.0,263.4 52.5,263.4 55.1,263.2 57.6,262.9 60.1,263.2 62.6,263.4 65.1,263.3 67.6,263.2 70.1,263.4 72.7,264.1 75.2,264.8 77.7,265.2 80.2,264.3 82.7,263.3 85.2,264.1 87.8,263.7 90.3,263.6 92.8,262.8 95.3,262.9 97.8,262.6 100.3,262.3 102.9,263.1 105.4,263.3 107.9,263.2 110.4,263.6 112.9,263.9 115.4,262.6 117.9,263.5 120.5,263.9 123.0,263.9 125.5,263.8 128.0,264.5 130.5,264.3 133.0,264.0 135.6,264.5 138.1,264.1 140.6,264.1 143.1,263.2 145.6,262.4 148.1,262.1 150.6,263.0 153.2,262.5 155.7,263.5 158.2,264.2 160.7,264.0 163.2,264.3 165.7,263.6 168.3,263.4 170.8,263.7 173.3,264.1 175.8,264.1 178.3,264.2 180.8,264.9 183.3,264.0 185.9,263.5 188.4,263.4 190.9,263.9 193.4,263.6 195.9,263.5 198.4,264.3 201.0,263.5 203.5,263.1 206.0,262.7 208.5,263.3 211.0,264.1 213.5,264.0 216.1,263.7 218.6,264.5 221.1,264.2 223.6,263.8 226.1,263.4 228.6,263.5 231.1,262.3 233.7,262.6 236.2,262.3 238.7,262.3 241.2,262.5 243.7,262.1 246.2,262.0 248.8,262.3 251.3,262.8 253.8,263.4 256.3,263.1 256.3,260.6" fill="#fafafc" />
<line x1="31" y1="198.9" x2="256" y2="198.9" stroke="#fff" stroke-width="0.9" stroke-dasharray="6 3 4 5 7 2 3 4" opacity="0.75"/>
<rect x="29.9" y="198.0" width="226.4" height="53.5" fill="none" stroke="#4a4a4a" stroke-width="1" />
<rect x="29.9" y="260.6" width="226.4" height="52.89999999999998" fill="none" stroke="#4a4a4a" stroke-width="1" />
<line x1="49.4" y1="198.0" x2="49.4" y2="201.0" stroke="#4a4a4a" stroke-width="1"/>
<line x1="49.4" y1="251.5" x2="49.4" y2="248.5" stroke="#4a4a4a" stroke-width="1"/>
<line x1="69.95" y1="198.0" x2="69.95" y2="201.0" stroke="#4a4a4a" stroke-width="1"/>
<line x1="69.95" y1="251.5" x2="69.95" y2="248.5" stroke="#4a4a4a" stroke-width="1"/>
<line x1="90.5" y1="198.0" x2="90.5" y2="201.0" stroke="#4a4a4a" stroke-width="1"/>
<line x1="90.5" y1="251.5" x2="90.5" y2="248.5" stroke="#4a4a4a" stroke-width="1"/>
<line x1="111.05000000000001" y1="198.0" x2="111.05000000000001" y2="201.0" stroke="#4a4a4a" stroke-width="1"/>
<line x1="111.05000000000001" y1="251.5" x2="111.05000000000001" y2="248.5" stroke="#4a4a4a" stroke-width="1"/>
<line x1="131.6" y1="198.0" x2="131.6" y2="201.0" stroke="#4a4a4a" stroke-width="1"/>
<line x1="131.6" y1="251.5" x2="131.6" y2="248.5" stroke="#4a4a4a" stroke-width="1"/>
<line x1="152.15" y1="198.0" x2="152.15" y2="201.0" stroke="#4a4a4a" stroke-width="1"/>
<line x1="152.15" y1="251.5" x2="152.15" y2="248.5" stroke="#4a4a4a" stroke-width="1"/>
<line x1="172.70000000000002" y1="198.0" x2="172.70000000000002" y2="201.0" stroke="#4a4a4a" stroke-width="1"/>
<line x1="172.70000000000002" y1="251.5" x2="172.70000000000002" y2="248.5" stroke="#4a4a4a" stroke-width="1"/>
<line x1="193.25" y1="198.0" x2="193.25" y2="201.0" stroke="#4a4a4a" stroke-width="1"/>
<line x1="193.25" y1="251.5" x2="193.25" y2="248.5" stroke="#4a4a4a" stroke-width="1"/>
<line x1="213.8" y1="198.0" x2="213.8" y2="201.0" stroke="#4a4a4a" stroke-width="1"/>
<line x1="213.8" y1="251.5" x2="213.8" y2="248.5" stroke="#4a4a4a" stroke-width="1"/>
<line x1="234.35000000000002" y1="198.0" x2="234.35000000000002" y2="201.0" stroke="#4a4a4a" stroke-width="1"/>
<line x1="234.35000000000002" y1="251.5" x2="234.35000000000002" y2="248.5" stroke="#4a4a4a" stroke-width="1"/>
<line x1="49.4" y1="260.6" x2="49.4" y2="263.6" stroke="#4a4a4a" stroke-width="1"/>
<line x1="49.4" y1="313.5" x2="49.4" y2="310.5" stroke="#4a4a4a" stroke-width="1"/>
<line x1="69.95" y1="260.6" x2="69.95" y2="263.6" stroke="#4a4a4a" stroke-width="1"/>
<line x1="69.95" y1="313.5" x2="69.95" y2="310.5" stroke="#4a4a4a" stroke-width="1"/>
<line x1="90.5" y1="260.6" x2="90.5" y2="263.6" stroke="#4a4a4a" stroke-width="1"/>
<line x1="90.5" y1="313.5" x2="90.5" y2="310.5" stroke="#4a4a4a" stroke-width="1"/>
<line x1="111.05000000000001" y1="260.6" x2="111.05000000000001" y2="263.6" stroke="#4a4a4a" stroke-width="1"/>
<line x1="111.05000000000001" y1="313.5" x2="111.05000000000001" y2="310.5" stroke="#4a4a4a" stroke-width="1"/>
<line x1="131.6" y1="260.6" x2="131.6" y2="263.6" stroke="#4a4a4a" stroke-width="1"/>
<line x1="131.6" y1="313.5" x2="131.6" y2="310.5" stroke="#4a4a4a" stroke-width="1"/>
<line x1="152.15" y1="260.6" x2="152.15" y2="263.6" stroke="#4a4a4a" stroke-width="1"/>
<line x1="152.15" y1="313.5" x2="152.15" y2="310.5" stroke="#4a4a4a" stroke-width="1"/>
<line x1="172.70000000000002" y1="260.6" x2="172.70000000000002" y2="263.6" stroke="#4a4a4a" stroke-width="1"/>
<line x1="172.70000000000002" y1="313.5" x2="172.70000000000002" y2="310.5" stroke="#4a4a4a" stroke-width="1"/>
<line x1="193.25" y1="260.6" x2="193.25" y2="263.6" stroke="#4a4a4a" stroke-width="1"/>
<line x1="193.25" y1="313.5" x2="193.25" y2="310.5" stroke="#4a4a4a" stroke-width="1"/>
<line x1="213.8" y1="260.6" x2="213.8" y2="263.6" stroke="#4a4a4a" stroke-width="1"/>
<line x1="213.8" y1="313.5" x2="213.8" y2="310.5" stroke="#4a4a4a" stroke-width="1"/>
<line x1="234.35000000000002" y1="260.6" x2="234.35000000000002" y2="263.6" stroke="#4a4a4a" stroke-width="1"/>
<line x1="234.35000000000002" y1="313.5" x2="234.35000000000002" y2="310.5" stroke="#4a4a4a" stroke-width="1"/>
<line x1="29.9" y1="224.7" x2="32.9" y2="224.7" stroke="#4a4a4a" stroke-width="1"/>
<line x1="256.3" y1="224.7" x2="253.3" y2="224.7" stroke="#4a4a4a" stroke-width="1"/>
<line x1="29.9" y1="287" x2="32.9" y2="287" stroke="#4a4a4a" stroke-width="1"/>
<line x1="256.3" y1="287" x2="253.3" y2="287" stroke="#4a4a4a" stroke-width="1"/>
<text x="26.5" y="201.3" font-size="10.5" text-anchor="end" fill="#161616" >3.63</text>
<text x="26.5" y="255.0" font-size="10.5" text-anchor="end" fill="#161616" >0</text>
<text x="26.5" y="265.5" font-size="10.5" text-anchor="end" fill="#161616" >3.63</text>
<text x="26.5" y="317.2" font-size="10.5" text-anchor="end" fill="#161616" >0</text>
<text x="19.0" y="225.5" font-size="10.5" text-anchor="middle" fill="#161616" transform="rotate(-90 19.0 225.5)" >x<tspan font-size="6.4" dy="3">2</tspan><tspan dy="-3"> [mm]</tspan></text>
<text x="19.0" y="287.5" font-size="10.5" text-anchor="middle" fill="#161616" transform="rotate(-90 19.0 287.5)" >x<tspan font-size="6.4" dy="3">2</tspan><tspan dy="-3"> [mm]</tspan></text>
<text x="48.4" y="325.2" font-size="10.5" text-anchor="middle" fill="#161616" >1.83</text>
<text x="250.8" y="325.2" font-size="10.5" text-anchor="middle" fill="#161616" >20.1</text>
<text x="135.3" y="329.5" font-size="10.5" text-anchor="start" fill="#161616" >x<tspan font-size="6.4" dy="3">1</tspan><tspan dy="-3"> [mm]</tspan></text>
<rect x="265.1" y="197.6" width="13.199999999999989" height="52.80000000000001" fill="url(#cb)" stroke="#4a4a4a" stroke-width="1"/>
<line x1="275.3" y1="202.7" x2="278.3" y2="202.7" stroke="#4a4a4a" stroke-width="1"/>
<line x1="275.3" y1="221.6" x2="278.3" y2="221.6" stroke="#4a4a4a" stroke-width="1"/>
<line x1="275.3" y1="241" x2="278.3" y2="241" stroke="#4a4a4a" stroke-width="1"/>
<rect x="265.1" y="260.5" width="13.199999999999989" height="53.0" fill="url(#cb)" stroke="#4a4a4a" stroke-width="1"/>
<line x1="275.3" y1="273.3" x2="278.3" y2="273.3" stroke="#4a4a4a" stroke-width="1"/>
<line x1="275.3" y1="290" x2="278.3" y2="290" stroke="#4a4a4a" stroke-width="1"/>
<line x1="275.3" y1="308.5" x2="278.3" y2="308.5" stroke="#4a4a4a" stroke-width="1"/>
<text x="282.3" y="206.3" font-size="10.5" text-anchor="start" fill="#161616" >0.18</text>
<text x="282.3" y="244.3" font-size="10.5" text-anchor="start" fill="#161616" >-0.18</text>
<text x="282.3" y="276.7" font-size="10.5" text-anchor="start" fill="#161616" >-0.46</text>
<text x="282.3" y="312.0" font-size="10.5" text-anchor="start" fill="#161616" >-0.18</text>
<text x="310.0" y="223" font-size="10.5" text-anchor="middle" fill="#161616" transform="rotate(90 310.0 223)" >u<tspan font-size="6.4" dy="3">1</tspan><tspan dy="-3"> [mm]</tspan></text>
<text x="311.0" y="288.5" font-size="10.5" text-anchor="middle" fill="#161616" transform="rotate(90 311.0 288.5)" >u<tspan font-size="6.4" dy="3">2</tspan><tspan dy="-3"> [mm]</tspan></text>
<text x="332.4" y="10.6" font-size="12.5" text-anchor="start" fill="#161616" >(c)</text>
<text x="495.6" y="9.3" font-size="10.5" text-anchor="start" fill="#161616" >E<tspan font-size="6.4" dy="3">22</tspan><tspan dy="-3"> = 0.5</tspan></text>
<clipPath id="cc1"><polygon points="407,17.4 617.3,17.4 616.5,40 614,45.5 611.8,47.1 605,48.5 596,50.6 588,51 577,52.6 566,53 556,53.3 540,54 529,54.4 507,55.2 500,55.6 470,56.8 440,57.4 420,57.9 408,57.9 406.6,50 407,30"/></clipPath>
<g clip-path="url(#cc1)">
<rect x="406" y="17.4" width="214" height="40.6" fill="#f8f8fc" />
<polygon points="406.0,17.4 595.8,17.4 596.4,18.4 596.4,19.4 597.9,20.4 598.1,21.5 598.6,22.5 599.1,23.5 598.7,24.5 599.0,25.5 600.6,26.5 600.3,27.5 600.4,28.6 601.9,29.6 602.5,30.6 602.1,31.6 603.2,32.6 603.2,33.6 604.4,34.7 605.7,35.7 605.8,36.7 605.9,37.7 606.4,38.7 606.7,39.7 607.5,40.7 607.8,41.8 607.7,42.8 608.7,43.8 609.2,44.8 609.8,45.8 610.3,46.8 610.7,47.8 611.0,48.9 611.3,49.9 611.5,50.9 611.0,51.9 610.9,52.9 610.5,53.9 611.1,55.0 610.2,56.0 610.3,57.0 611.2,58.0 406.0,58.0" fill="#f2f0a0" />
<polygon points="406.0,17.4 577.7,17.4 577.9,18.4 577.6,19.4 578.2,20.4 579.1,21.5 579.8,22.5 579.6,23.5 579.9,24.5 579.9,25.5 580.5,26.5 581.0,27.5 580.8,28.6 581.8,29.6 582.0,30.6 581.7,31.6 582.3,32.6 583.6,33.6 584.2,34.7 584.1,35.7 584.1,36.7 584.1,37.7 584.8,38.7 585.4,39.7 585.2,40.7 585.0,41.8 586.3,42.8 586.7,43.8 587.0,44.8 587.0,45.8 586.8,46.8 587.3,47.8 587.6,48.9 587.9,49.9 588.4,50.9 588.6,51.9 588.3,52.9 588.4,53.9 587.9,55.0 587.9,56.0 588.2,57.0 588.5,58.0 406.0,58.0" fill="#e6d030" />
<polygon points="406.0,17.4 556.9,17.4 557.5,18.4 557.6,19.4 558.2,20.4 558.6,21.5 559.1,22.5 559.7,23.5 559.9,24.5 559.6,25.5 559.5,26.5 560.1,27.5 560.8,28.6 560.7,29.6 560.7,30.6 560.8,31.6 561.3,32.6 562.4,33.6 562.5,34.7 562.9,35.7 563.5,36.7 563.6,37.7 564.1,38.7 564.5,39.7 564.5,40.7 565.2,41.8 565.2,42.8 566.2,43.8 566.7,44.8 567.4,45.8 567.9,46.8 567.2,47.8 568.1,48.9 568.9,49.9 569.2,50.9 568.9,51.9 568.8,52.9 569.4,53.9 569.4,55.0 570.0,56.0 569.9,57.0 569.3,58.0 406.0,58.0" fill="#e0aa00" />
<polygon points="406.0,17.4 538.7,17.4 538.6,18.4 538.8,19.4 538.4,20.4 538.8,21.5 539.8,22.5 540.2,23.5 540.0,24.5 540.1,25.5 541.4,26.5 541.5,27.5 541.4,28.6 541.4,29.6 541.5,30.6 542.4,31.6 542.6,32.6 543.1,33.6 542.8,34.7 542.7,35.7 543.7,36.7 544.4,37.7 544.4,38.7 544.6,39.7 545.3,40.7 545.5,41.8 545.0,42.8 545.7,43.8 546.2,44.8 546.0,45.8 546.4,46.8 546.9,47.8 547.0,48.9 547.2,49.9 548.0,50.9 547.8,51.9 548.8,52.9 548.5,53.9 549.0,55.0 549.7,56.0 549.8,57.0 550.2,58.0 406.0,58.0" fill="#f08010" />
<polygon points="406.0,17.4 520.8,17.4 520.8,18.4 520.5,19.4 521.0,20.4 521.0,21.5 522.1,22.5 522.4,23.5 522.4,24.5 522.2,25.5 522.4,26.5 522.4,27.5 522.9,28.6 523.8,29.6 523.5,30.6 523.4,31.6 524.2,32.6 524.0,33.6 524.4,34.7 524.8,35.7 525.7,36.7 525.5,37.7 525.5,38.7 526.2,39.7 526.4,40.7 525.5,41.8 525.5,42.8 526.5,43.8 527.4,44.8 527.2,45.8 527.3,46.8 528.0,47.8 527.9,48.9 528.3,49.9 528.5,50.9 529.5,51.9 530.1,52.9 529.8,53.9 529.4,55.0 529.6,56.0 530.1,57.0 529.1,58.0 406.0,58.0" fill="#e84a1e" />
<polygon points="406.0,17.4 502.0,17.4 501.6,18.4 501.9,19.4 501.9,20.4 502.7,21.5 502.2,22.5 502.7,23.5 502.1,24.5 502.4,25.5 503.3,26.5 503.4,27.5 502.9,28.6 503.0,29.6 503.2,30.6 502.9,31.6 502.8,32.6 503.6,33.6 503.7,34.7 503.8,35.7 503.6,36.7 503.7,37.7 503.8,38.7 504.1,39.7 504.6,40.7 504.9,41.8 504.9,42.8 505.4,43.8 505.4,44.8 505.0,45.8 504.6,46.8 506.2,47.8 507.1,48.9 506.8,49.9 506.1,50.9 505.8,51.9 506.1,52.9 506.9,53.9 506.6,55.0 506.4,56.0 506.6,57.0 506.2,58.0 406.0,58.0" fill="#b03c6c" />
<polygon points="406.0,17.4 483.2,17.4 483.0,18.4 484.0,19.4 484.0,20.4 484.4,21.5 484.8,22.5 485.5,23.5 484.3,24.5 484.0,25.5 484.6,26.5 484.4,27.5 484.1,28.6 484.4,29.6 484.5,30.6 483.8,31.6 484.0,32.6 485.6,33.6 485.3,34.7 484.6,35.7 485.4,36.7 484.9,37.7 484.5,38.7 485.3,39.7 484.9,40.7 485.3,41.8 485.2,42.8 485.6,43.8 485.6,44.8 485.9,45.8 486.6,46.8 486.5,47.8 486.1,48.9 486.5,49.9 487.2,50.9 487.0,51.9 486.0,52.9 485.9,53.9 486.4,55.0 486.7,56.0 486.4,57.0 486.2,58.0 406.0,58.0" fill="#7020a8" />
<polygon points="406.0,17.4 465.8,17.4 465.6,18.4 464.8,19.4 464.9,20.4 465.3,21.5 465.4,22.5 463.9,23.5 463.8,24.5 464.5,25.5 463.9,26.5 464.2,27.5 464.7,28.6 464.5,29.6 464.2,30.6 464.5,31.6 465.2,32.6 465.3,33.6 465.2,34.7 465.8,35.7 465.4,36.7 465.3,37.7 465.5,38.7 464.9,39.7 464.4,40.7 465.0,41.8 465.4,42.8 465.2,43.8 465.1,44.8 465.4,45.8 466.0,46.8 465.5,47.8 465.4,48.9 465.7,49.9 466.3,50.9 466.0,51.9 465.5,52.9 465.8,53.9 465.5,55.0 465.6,56.0 465.3,57.0 464.9,58.0 406.0,58.0" fill="#3c2890" />
<polygon points="406.0,17.4 446.4,17.4 446.3,18.4 446.0,19.4 446.2,20.4 446.1,21.5 445.6,22.5 445.4,23.5 446.7,24.5 446.7,25.5 446.9,26.5 447.1,27.5 446.4,28.6 446.7,29.6 447.0,30.6 446.7,31.6 446.3,32.6 446.4,33.6 446.1,34.7 447.0,35.7 445.7,36.7 446.0,37.7 446.1,38.7 446.3,39.7 446.6,40.7 446.6,41.8 446.3,42.8 446.5,43.8 446.0,44.8 446.2,45.8 445.2,46.8 445.7,47.8 445.8,48.9 446.2,49.9 446.2,50.9 445.7,51.9 445.9,52.9 445.8,53.9 446.1,55.0 446.5,56.0 445.9,57.0 445.2,58.0 406.0,58.0" fill="#1b1a30" />
<polygon points="406.0,17.4 428.4,17.4 427.4,18.4 427.9,19.4 428.0,20.4 427.7,21.5 427.8,22.5 427.7,23.5 427.4,24.5 426.9,25.5 427.2,26.5 426.7,27.5 427.5,28.6 427.5,29.6 427.8,30.6 427.2,31.6 427.3,32.6 427.7,33.6 426.6,34.7 425.9,35.7 426.7,36.7 427.0,37.7 427.0,38.7 426.6,39.7 426.2,40.7 427.1,41.8 427.0,42.8 426.3,43.8 426.8,44.8 427.2,45.8 426.4,46.8 426.9,47.8 426.8,48.9 426.6,49.9 427.1,50.9 427.0,51.9 426.6,52.9 425.7,53.9 426.0,55.0 425.3,56.0 425.7,57.0 426.3,58.0 406.0,58.0" fill="#060606" />
</g>
<clipPath id="cc2"><polygon points="406.6,78.9 560,78.9 603.6,80.6 612.8,83.3 616.2,84 616.4,100 616,108 614,109.9 612,111 600,111.7 560,112.5 530,115 500,116.8 470,118.5 440,119.5 420,120 407,120 406.4,100"/></clipPath>
<g clip-path="url(#cc2)">
<rect x="406" y="78" width="212" height="43" fill="#060606" />
<polygon points="406.0,78.0 406.0,117.0 408.4,116.8 410.7,116.6 413.1,116.8 415.4,116.5 417.8,116.6 420.1,116.4 422.5,116.7 424.8,116.8 427.2,117.0 429.6,117.2 431.9,117.4 434.3,117.9 436.6,117.9 439.0,116.7 441.3,116.5 443.7,116.6 446.0,117.0 448.4,117.3 450.8,117.1 453.1,116.7 455.5,115.6 457.8,115.7 460.2,116.0 462.5,116.1 464.9,115.9 467.2,116.1 469.6,116.3 472.0,115.6 474.3,116.1 476.7,116.8 479.0,116.4 481.4,116.1 483.7,116.0 486.1,115.4 488.4,115.5 490.8,116.1 493.2,116.4 495.5,115.9 497.9,115.6 500.2,116.0 502.6,115.4 504.9,115.5 507.3,115.8 509.6,114.8 512.0,115.0 514.4,115.4 516.7,115.9 519.1,116.0 521.4,115.9 523.8,115.4 526.1,115.7 528.5,115.1 530.8,114.9 533.2,115.4 535.6,116.3 537.9,116.1 540.3,115.5 542.6,115.8 545.0,115.9 547.3,116.3 549.7,116.4 552.0,115.2 554.4,114.6 556.8,114.3 559.1,115.3 561.5,115.5 563.8,116.1 566.2,116.0 568.5,116.5 570.9,116.7 573.2,116.4 575.6,116.2 578.0,116.7 580.3,116.5 582.7,116.7 585.0,116.6 587.4,116.5 589.7,115.7 592.1,115.7 594.4,115.9 596.8,116.1 599.2,115.6 601.5,115.3 603.9,114.9 606.2,114.8 608.6,115.5 610.9,116.0 613.3,115.2 615.6,115.0 618.0,116.0 618.0,78.0" fill="#1b1a30" />
<polygon points="406.0,78.0 406.0,112.1 408.4,111.8 410.7,111.4 413.1,111.7 415.4,111.3 417.8,110.9 420.1,112.1 422.5,111.8 424.8,111.2 427.2,111.1 429.6,111.9 431.9,111.5 434.3,112.4 436.6,112.3 439.0,112.1 441.3,112.5 443.7,112.5 446.0,112.6 448.4,112.7 450.8,112.2 453.1,112.2 455.5,112.3 457.8,111.9 460.2,112.3 462.5,112.1 464.9,111.4 467.2,111.5 469.6,111.9 472.0,112.5 474.3,112.3 476.7,112.4 479.0,112.1 481.4,112.0 483.7,112.8 486.1,112.2 488.4,112.3 490.8,112.3 493.2,112.2 495.5,111.5 497.9,111.8 500.2,112.1 502.6,111.3 504.9,111.3 507.3,111.1 509.6,111.6 512.0,111.7 514.4,112.4 516.7,112.7 519.1,112.0 521.4,111.9 523.8,111.7 526.1,112.5 528.5,112.8 530.8,113.6 533.2,113.9 535.6,113.6 537.9,113.2 540.3,113.9 542.6,113.9 545.0,113.5 547.3,113.2 549.7,113.9 552.0,113.9 554.4,114.1 556.8,113.8 559.1,113.3 561.5,113.7 563.8,113.9 566.2,114.1 568.5,114.0 570.9,113.0 573.2,112.2 575.6,113.0 578.0,114.3 580.3,114.2 582.7,113.7 585.0,113.5 587.4,113.3 589.7,114.0 592.1,113.8 594.4,113.1 596.8,114.3 599.2,114.5 601.5,114.7 603.9,113.4 606.2,113.1 608.6,113.1 610.9,113.9 613.3,114.4 615.6,114.4 618.0,114.3 618.0,78.0" fill="#3c2890" />
<polygon points="406.0,78.0 406.0,105.3 408.4,106.3 410.7,106.3 413.1,106.0 415.4,106.0 417.8,106.4 420.1,106.7 422.5,106.5 424.8,106.6 427.2,107.1 429.6,106.9 431.9,105.8 434.3,105.7 436.6,106.4 439.0,107.3 441.3,107.7 443.7,107.0 446.0,106.7 448.4,107.1 450.8,107.2 453.1,106.4 455.5,105.7 457.8,105.6 460.2,106.0 462.5,106.3 464.9,106.5 467.2,106.2 469.6,106.4 472.0,106.3 474.3,106.0 476.7,106.8 479.0,106.5 481.4,107.0 483.7,107.6 486.1,107.4 488.4,106.8 490.8,107.6 493.2,107.8 495.5,107.2 497.9,107.6 500.2,108.3 502.6,109.2 504.9,109.0 507.3,109.2 509.6,109.6 512.0,109.3 514.4,109.3 516.7,109.8 519.1,109.8 521.4,110.8 523.8,110.5 526.1,109.9 528.5,109.9 530.8,110.5 533.2,111.1 535.6,111.6 537.9,111.2 540.3,110.8 542.6,111.5 545.0,111.8 547.3,112.2 549.7,112.7 552.0,113.0 554.4,113.0 556.8,112.8 559.1,112.6 561.5,112.8 563.8,113.2 566.2,113.1 568.5,113.1 570.9,112.9 573.2,112.8 575.6,113.1 578.0,112.6 580.3,113.3 582.7,113.1 585.0,112.7 587.4,112.5 589.7,112.4 592.1,112.5 594.4,112.5 596.8,112.9 599.2,113.5 601.5,113.7 603.9,113.1 606.2,112.8 608.6,113.2 610.9,113.9 613.3,113.4 615.6,113.6 618.0,113.5 618.0,78.0" fill="#7020a8" />
<polygon points="406.0,78.0 406.0,101.9 408.4,101.5 410.7,101.7 413.1,101.0 415.4,100.6 417.8,100.8 420.1,101.5 422.5,101.8 424.8,101.8 427.2,102.0 429.6,101.5 431.9,101.4 434.3,102.1 436.6,102.0 439.0,101.9 441.3,101.7 443.7,101.1 446.0,101.8 448.4,102.6 450.8,103.0 453.1,103.5 455.5,102.6 457.8,102.3 460.2,102.3 462.5,102.8 464.9,102.6 467.2,102.0 469.6,102.6 472.0,103.0 474.3,102.9 476.7,103.0 479.0,102.8 481.4,102.9 483.7,103.2 486.1,103.1 488.4,103.1 490.8,103.2 493.2,103.0 495.5,103.7 497.9,103.8 500.2,104.1 502.6,104.5 504.9,104.5 507.3,104.2 509.6,104.3 512.0,104.4 514.4,104.6 516.7,105.0 519.1,104.8 521.4,104.5 523.8,105.3 526.1,106.0 528.5,106.1 530.8,106.0 533.2,106.1 535.6,106.6 537.9,106.9 540.3,107.8 542.6,108.3 545.0,108.1 547.3,108.0 549.7,107.8 552.0,108.8 554.4,108.7 556.8,108.4 559.1,109.0 561.5,108.7 563.8,108.3 566.2,107.8 568.5,107.4 570.9,107.9 573.2,108.1 575.6,108.2 578.0,107.9 580.3,108.8 582.7,108.7 585.0,109.2 587.4,109.7 589.7,109.8 592.1,109.8 594.4,110.4 596.8,110.7 599.2,111.1 601.5,111.1 603.9,110.5 606.2,110.9 608.6,111.8 610.9,112.2 613.3,111.5 615.6,111.6 618.0,111.6 618.0,78.0" fill="#b03c6c" />
<polygon points="406.0,78.0 406.0,96.0 408.4,95.7 410.7,96.6 413.1,97.0 415.4,96.0 417.8,95.7 420.1,95.8 422.5,96.2 424.8,95.8 427.2,95.3 429.6,95.0 431.9,95.4 434.3,95.4 436.6,95.2 439.0,94.8 441.3,95.3 443.7,96.1 446.0,96.0 448.4,96.2 450.8,96.5 453.1,96.9 455.5,96.7 457.8,96.7 460.2,97.2 462.5,97.6 464.9,97.3 467.2,96.7 469.6,96.9 472.0,97.4 474.3,97.8 476.7,97.8 479.0,98.1 481.4,98.8 483.7,99.7 486.1,99.4 488.4,98.8 490.8,98.2 493.2,98.7 495.5,99.7 497.9,99.6 500.2,99.0 502.6,99.0 504.9,99.2 507.3,99.3 509.6,99.6 512.0,99.3 514.4,99.1 516.7,99.3 519.1,99.7 521.4,99.3 523.8,98.7 526.1,98.6 528.5,99.4 530.8,99.4 533.2,99.4 535.6,99.8 537.9,100.0 540.3,100.2 542.6,100.2 545.0,100.5 547.3,101.1 549.7,101.2 552.0,101.0 554.4,101.0 556.8,101.2 559.1,101.7 561.5,102.0 563.8,102.5 566.2,102.1 568.5,102.1 570.9,103.5 573.2,104.0 575.6,103.7 578.0,103.6 580.3,104.4 582.7,104.5 585.0,104.1 587.4,103.8 589.7,104.3 592.1,104.7 594.4,104.7 596.8,104.5 599.2,105.3 601.5,105.7 603.9,105.8 606.2,105.7 608.6,105.7 610.9,106.0 613.3,106.4 615.6,106.1 618.0,106.4 618.0,78.0" fill="#e84a1e" />
<polygon points="406.0,78.0 406.0,92.0 408.4,92.0 410.7,92.7 413.1,92.4 415.4,92.0 417.8,92.1 420.1,91.8 422.5,92.3 424.8,92.6 427.2,92.7 429.6,92.4 431.9,92.1 434.3,92.6 436.6,92.7 439.0,92.7 441.3,92.7 443.7,93.1 446.0,92.7 448.4,93.2 450.8,93.3 453.1,93.0 455.5,92.9 457.8,92.9 460.2,93.3 462.5,93.5 464.9,92.8 467.2,92.5 469.6,92.8 472.0,92.7 474.3,92.9 476.7,93.5 479.0,93.3 481.4,93.9 483.7,93.9 486.1,93.7 488.4,93.6 490.8,94.1 493.2,93.9 495.5,93.9 497.9,93.7 500.2,94.1 502.6,94.2 504.9,94.4 507.3,94.8 509.6,94.4 512.0,94.1 514.4,94.8 516.7,95.1 519.1,95.3 521.4,95.2 523.8,96.1 526.1,96.2 528.5,96.1 530.8,96.6 533.2,96.2 535.6,96.3 537.9,96.7 540.3,96.2 542.6,96.5 545.0,97.3 547.3,97.5 549.7,98.6 552.0,98.8 554.4,98.2 556.8,97.7 559.1,97.3 561.5,97.1 563.8,97.9 566.2,98.2 568.5,98.1 570.9,99.2 573.2,98.8 575.6,98.3 578.0,98.9 580.3,99.4 582.7,99.8 585.0,99.1 587.4,99.3 589.7,99.3 592.1,100.2 594.4,100.5 596.8,100.0 599.2,99.4 601.5,99.6 603.9,100.7 606.2,100.5 608.6,99.9 610.9,100.2 613.3,100.3 615.6,100.6 618.0,100.1 618.0,78.0" fill="#f08010" />
<polygon points="406.0,78.0 406.0,88.9 408.4,88.3 410.7,87.7 413.1,87.7 415.4,88.4 417.8,88.8 420.1,89.0 422.5,88.4 424.8,88.3 427.2,87.7 429.6,87.1 431.9,87.9 434.3,88.8 436.6,88.6 439.0,88.5 441.3,88.6 443.7,88.6 446.0,88.9 448.4,88.4 450.8,88.7 453.1,88.5 455.5,89.0 457.8,89.3 460.2,88.3 462.5,88.3 464.9,88.4 467.2,88.3 469.6,87.9 472.0,87.9 474.3,88.3 476.7,87.9 479.0,88.2 481.4,87.8 483.7,87.8 486.1,88.8 488.4,88.9 490.8,89.3 493.2,90.2 495.5,89.7 497.9,89.3 500.2,90.3 502.6,89.9 504.9,90.0 507.3,90.6 509.6,91.1 512.0,90.8 514.4,91.3 516.7,91.3 519.1,91.0 521.4,91.0 523.8,91.0 526.1,90.9 528.5,91.1 530.8,91.2 533.2,91.7 535.6,92.0 537.9,91.6 540.3,92.5 542.6,93.4 545.0,93.1 547.3,92.3 549.7,91.8 552.0,92.8 554.4,93.3 556.8,92.7 559.1,92.6 561.5,93.6 563.8,94.0 566.2,94.0 568.5,93.5 570.9,93.2 573.2,93.2 575.6,92.9 578.0,92.4 580.3,92.4 582.7,93.3 585.0,93.8 587.4,94.1 589.7,94.2 592.1,94.4 594.4,94.1 596.8,94.5 599.2,95.4 601.5,96.0 603.9,96.1 606.2,96.4 608.6,96.4 610.9,96.4 613.3,96.1 615.6,96.5 618.0,95.7 618.0,78.0" fill="#e0aa00" />
<polygon points="406.0,78.0 406.0,84.4 408.4,84.1 410.7,83.6 413.1,83.3 415.4,84.2 417.8,85.2 420.1,85.5 422.5,85.2 424.8,84.8 427.2,84.9 429.6,85.0 431.9,84.7 434.3,84.2 436.6,84.2 439.0,84.3 441.3,84.2 443.7,83.8 446.0,84.7 448.4,84.7 450.8,84.1 453.1,84.4 455.5,84.5 457.8,84.6 460.2,84.9 462.5,84.4 464.9,84.4 467.2,84.9 469.6,85.4 472.0,85.5 474.3,85.2 476.7,85.2 479.0,84.6 481.4,84.7 483.7,85.3 486.1,84.8 488.4,84.9 490.8,84.6 493.2,85.2 495.5,85.0 497.9,85.4 500.2,85.2 502.6,85.1 504.9,85.8 507.3,86.0 509.6,85.9 512.0,85.9 514.4,85.6 516.7,85.7 519.1,85.7 521.4,85.7 523.8,86.2 526.1,85.6 528.5,86.7 530.8,87.9 533.2,88.1 535.6,87.4 537.9,87.3 540.3,86.9 542.6,86.9 545.0,88.0 547.3,87.8 549.7,87.3 552.0,87.2 554.4,87.8 556.8,87.4 559.1,87.2 561.5,87.4 563.8,87.5 566.2,88.2 568.5,88.9 570.9,88.8 573.2,88.3 575.6,88.8 578.0,89.9 580.3,89.3 582.7,89.4 585.0,89.2 587.4,89.2 589.7,89.1 592.1,89.6 594.4,89.4 596.8,89.7 599.2,90.5 601.5,91.1 603.9,91.4 606.2,91.0 608.6,90.8 610.9,90.8 613.3,91.1 615.6,91.3 618.0,90.5 618.0,78.0" fill="#e6d030" />
<polygon points="406.0,78.0 406.0,81.0 408.4,80.8 410.7,80.8 413.1,80.3 415.4,80.1 417.8,80.6 420.1,80.1 422.5,80.3 424.8,80.8 427.2,80.9 429.6,80.4 431.9,80.3 434.3,80.9 436.6,80.8 439.0,80.6 441.3,80.8 443.7,80.7 446.0,80.7 448.4,79.9 450.8,80.0 453.1,79.6 455.5,79.3 457.8,79.6 460.2,79.9 462.5,79.8 464.9,80.9 467.2,80.9 469.6,80.9 472.0,81.5 474.3,81.6 476.7,81.9 479.0,81.8 481.4,81.6 483.7,81.6 486.1,81.2 488.4,80.8 490.8,80.9 493.2,80.7 495.5,80.8 497.9,81.2 500.2,81.4 502.6,80.8 504.9,80.6 507.3,81.0 509.6,81.1 512.0,81.7 514.4,81.7 516.7,81.4 519.1,81.7 521.4,81.0 523.8,80.5 526.1,81.4 528.5,82.2 530.8,82.2 533.2,81.7 535.6,82.2 537.9,81.8 540.3,81.5 542.6,81.0 545.0,81.5 547.3,81.7 549.7,81.7 552.0,81.2 554.4,80.9 556.8,81.3 559.1,81.6 561.5,81.8 563.8,81.7 566.2,81.7 568.5,81.6 570.9,82.1 573.2,82.5 575.6,82.6 578.0,83.1 580.3,82.8 582.7,82.9 585.0,83.4 587.4,83.5 589.7,84.4 592.1,84.8 594.4,84.3 596.8,84.6 599.2,85.3 601.5,84.7 603.9,84.9 606.2,86.1 608.6,86.2 610.9,86.4 613.3,86.6 615.6,87.3 618.0,86.9 618.0,78.0" fill="#f2f0a0" />
</g>
<rect x="395.9" y="17.4" width="229.0" height="55.1" fill="none" stroke="#4a4a4a" stroke-width="1" />
<rect x="395.9" y="78.8" width="229.0" height="54.2" fill="none" stroke="#4a4a4a" stroke-width="1" />
<line x1="448" y1="17.4" x2="448" y2="20.4" stroke="#4a4a4a" stroke-width="1"/>
<line x1="448" y1="72.5" x2="448" y2="69.5" stroke="#4a4a4a" stroke-width="1"/>
<line x1="500.4" y1="17.4" x2="500.4" y2="20.4" stroke="#4a4a4a" stroke-width="1"/>
<line x1="500.4" y1="72.5" x2="500.4" y2="69.5" stroke="#4a4a4a" stroke-width="1"/>
<line x1="552.4" y1="17.4" x2="552.4" y2="20.4" stroke="#4a4a4a" stroke-width="1"/>
<line x1="552.4" y1="72.5" x2="552.4" y2="69.5" stroke="#4a4a4a" stroke-width="1"/>
<line x1="604.5" y1="17.4" x2="604.5" y2="20.4" stroke="#4a4a4a" stroke-width="1"/>
<line x1="604.5" y1="72.5" x2="604.5" y2="69.5" stroke="#4a4a4a" stroke-width="1"/>
<line x1="448" y1="78.8" x2="448" y2="81.8" stroke="#4a4a4a" stroke-width="1"/>
<line x1="448" y1="133.0" x2="448" y2="130.0" stroke="#4a4a4a" stroke-width="1"/>
<line x1="500.4" y1="78.8" x2="500.4" y2="81.8" stroke="#4a4a4a" stroke-width="1"/>
<line x1="500.4" y1="133.0" x2="500.4" y2="130.0" stroke="#4a4a4a" stroke-width="1"/>
<line x1="552.4" y1="78.8" x2="552.4" y2="81.8" stroke="#4a4a4a" stroke-width="1"/>
<line x1="552.4" y1="133.0" x2="552.4" y2="130.0" stroke="#4a4a4a" stroke-width="1"/>
<line x1="604.5" y1="78.8" x2="604.5" y2="81.8" stroke="#4a4a4a" stroke-width="1"/>
<line x1="604.5" y1="133.0" x2="604.5" y2="130.0" stroke="#4a4a4a" stroke-width="1"/>
<line x1="395.9" y1="30.6" x2="398.9" y2="30.6" stroke="#4a4a4a" stroke-width="1"/>
<line x1="624.9" y1="30.6" x2="621.9" y2="30.6" stroke="#4a4a4a" stroke-width="1"/>
<line x1="395.9" y1="44.8" x2="398.9" y2="44.8" stroke="#4a4a4a" stroke-width="1"/>
<line x1="624.9" y1="44.8" x2="621.9" y2="44.8" stroke="#4a4a4a" stroke-width="1"/>
<line x1="395.9" y1="58.8" x2="398.9" y2="58.8" stroke="#4a4a4a" stroke-width="1"/>
<line x1="624.9" y1="58.8" x2="621.9" y2="58.8" stroke="#4a4a4a" stroke-width="1"/>
<line x1="395.9" y1="92.4" x2="398.9" y2="92.4" stroke="#4a4a4a" stroke-width="1"/>
<line x1="624.9" y1="92.4" x2="621.9" y2="92.4" stroke="#4a4a4a" stroke-width="1"/>
<line x1="395.9" y1="106.2" x2="398.9" y2="106.2" stroke="#4a4a4a" stroke-width="1"/>
<line x1="624.9" y1="106.2" x2="621.9" y2="106.2" stroke="#4a4a4a" stroke-width="1"/>
<line x1="395.9" y1="120.2" x2="398.9" y2="120.2" stroke="#4a4a4a" stroke-width="1"/>
<line x1="624.9" y1="120.2" x2="621.9" y2="120.2" stroke="#4a4a4a" stroke-width="1"/>
<text x="391.5" y="34.2" font-size="10.5" text-anchor="end" fill="#161616" >2.7</text>
<text x="391.5" y="62.5" font-size="10.5" text-anchor="end" fill="#161616" >0.9</text>
<text x="391.5" y="96.0" font-size="10.5" text-anchor="end" fill="#161616" >2.7</text>
<text x="391.5" y="123.8" font-size="10.5" text-anchor="end" fill="#161616" >0.9</text>
<text x="371.8" y="44.2" font-size="10.5" text-anchor="middle" fill="#161616" transform="rotate(-90 371.8 44.2)" >x<tspan font-size="6.4" dy="3">2</tspan><tspan dy="-3"> [mm]</tspan></text>
<text x="371.8" y="106.2" font-size="10.5" text-anchor="middle" fill="#161616" transform="rotate(-90 371.8 106.2)" >x<tspan font-size="6.4" dy="3">2</tspan><tspan dy="-3"> [mm]</tspan></text>
<text x="448.5" y="143.4" font-size="10.5" text-anchor="middle" fill="#161616" >4.6</text>
<text x="604.4" y="143.4" font-size="10.5" text-anchor="middle" fill="#161616" >18.3</text>
<text x="498.6" y="145.5" font-size="10.5" text-anchor="start" fill="#161616" >x<tspan font-size="6.4" dy="3">1</tspan><tspan dy="-3"> [mm]</tspan></text>
<rect x="633.1" y="20.2" width="11.699999999999932" height="48.8" fill="url(#cb)" stroke="#4a4a4a" stroke-width="1"/>
<line x1="641.8" y1="26.6" x2="644.8" y2="26.6" stroke="#4a4a4a" stroke-width="1"/>
<line x1="641.8" y1="38.9" x2="644.8" y2="38.9" stroke="#4a4a4a" stroke-width="1"/>
<line x1="641.8" y1="50.6" x2="644.8" y2="50.6" stroke="#4a4a4a" stroke-width="1"/>
<line x1="641.8" y1="58.8" x2="644.8" y2="58.8" stroke="#4a4a4a" stroke-width="1"/>
<rect x="633.1" y="80.7" width="11.699999999999932" height="48.8" fill="url(#cb)" stroke="#4a4a4a" stroke-width="1"/>
<line x1="641.8" y1="88" x2="644.8" y2="88" stroke="#4a4a4a" stroke-width="1"/>
<line x1="641.8" y1="100" x2="644.8" y2="100" stroke="#4a4a4a" stroke-width="1"/>
<line x1="641.8" y1="112" x2="644.8" y2="112" stroke="#4a4a4a" stroke-width="1"/>
<line x1="641.8" y1="118.4" x2="644.8" y2="118.4" stroke="#4a4a4a" stroke-width="1"/>
<text x="647.3" y="29.2" font-size="10.5" text-anchor="start" fill="#161616" >0.5</text>
<text x="647.3" y="62.4" font-size="10.5" text-anchor="start" fill="#161616" >-0.9</text>
<text x="647.3" y="91.6" font-size="10.5" text-anchor="start" fill="#161616" >-2.3</text>
<text x="647.3" y="122.0" font-size="10.5" text-anchor="start" fill="#161616" >-1.4</text>
<text x="670.0" y="44.3" font-size="10.5" text-anchor="middle" fill="#161616" transform="rotate(90 670.0 44.3)" >u<tspan font-size="6.4" dy="3">1</tspan><tspan dy="-3"> [mm]</tspan></text>
<text x="670.0" y="104.6" font-size="10.5" text-anchor="middle" fill="#161616" transform="rotate(90 670.0 104.6)" >u<tspan font-size="6.4" dy="3">2</tspan><tspan dy="-3"> [mm]</tspan></text>
<text x="331.8" y="186.8" font-size="12.5" text-anchor="start" fill="#161616" >(d)</text>
<line x1="320.4" y1="194.8" x2="403.5" y2="291.5" stroke="#666" stroke-width="0.9" stroke-dasharray="3.6 2.7"/>
<line x1="323.1" y1="310.6" x2="403.5" y2="294.5" stroke="#666" stroke-width="0.9" stroke-dasharray="3.6 2.7"/>
<line x1="395.6" y1="140.5" x2="489" y2="215.5" stroke="#666" stroke-width="0.9" stroke-dasharray="3.6 2.7"/>
<line x1="624.8" y1="139.7" x2="492" y2="216.5" stroke="#666" stroke-width="0.9" stroke-dasharray="3.6 2.7"/>
<path d="M383.24,303.18 L384.84,301.95 L386.51,300.83 L388.23,299.80 L390.02,298.86 L391.85,297.99 L393.73,297.18 L395.65,296.44 L397.61,295.74 L399.59,295.08 L401.60,294.45 L403.63,293.84 L405.68,293.25 L407.73,292.65 L409.79,292.06 L411.85,291.44 L413.91,290.82 L415.97,290.18 L418.02,289.51 L420.06,288.83 L422.09,288.12 L424.11,287.39 L426.11,286.63 L428.10,285.83 L430.07,285.00 L432.02,284.14 L433.94,283.23 L435.84,282.29 L437.71,281.30 L439.56,280.27 L441.38,279.19 L443.17,278.08 L444.93,276.93 L446.66,275.73 L448.37,274.50 L450.05,273.23 L451.71,271.93 L453.34,270.59 L454.94,269.22 L456.52,267.81 L458.07,266.37 L459.60,264.90 L461.09,263.40 L462.57,261.87 L464.02,260.31 L465.44,258.73 L466.84,257.12 L468.21,255.48 L469.56,253.82 L470.88,252.14 L472.18,250.43 L473.46,248.70 L474.71,246.95 L475.93,245.19 L477.14,243.40 L478.32,241.60 L479.47,239.78 L480.60,237.94 L481.71,236.09 L482.80,234.23 L483.86,232.35 L484.90,230.47 L485.91,228.57 L486.91,226.66 L487.88,224.74 L488.83,222.82 L489.76,220.89 L490.66,218.95 L491.54,217.01 L492.40,215.07 L493.24,213.12 L494.06,211.17 L494.86,209.22 L495.64,207.28 L496.39,205.33 L497.12,203.38 L497.84,201.44 L498.53,199.50 L499.20,197.57 L499.86,195.64" stroke="#000" stroke-width="2" fill="none" stroke-linejoin="round" stroke-linecap="round" />
<path d="M407.69,303.80 L409.61,303.38 L411.52,302.92 L413.41,302.42 L415.28,301.89 L417.13,301.32 L418.97,300.72 L420.79,300.09 L422.59,299.42 L424.37,298.72 L426.14,297.98 L427.88,297.22 L429.61,296.42 L431.32,295.59 L433.02,294.73 L434.69,293.84 L436.35,292.92 L437.99,291.97 L439.61,290.99 L441.21,289.98 L442.79,288.95 L444.36,287.89 L445.90,286.80 L447.43,285.68 L448.94,284.54 L450.42,283.37 L451.89,282.18 L453.34,280.97 L454.77,279.73 L456.18,278.46 L457.58,277.17 L458.95,275.86 L460.30,274.53 L461.63,273.18 L462.94,271.80 L464.24,270.41 L465.51,268.99 L466.76,267.55 L467.99,266.10 L469.21,264.62 L470.40,263.13 L471.57,261.62 L472.72,260.09 L473.85,258.54 L474.96,256.98 L476.05,255.40 L477.12,253.81 L478.16,252.20 L479.19,250.58 L480.19,248.94 L481.18,247.29 L482.14,245.63 L483.08,243.95 L484.00,242.26 L484.90,240.56 L485.77,238.85 L486.63,237.12 L487.46,235.39 L488.27,233.65 L489.06,231.89 L489.82,230.13 L490.57,228.36 L491.29,226.58 L491.99,224.80 L492.67,223.00 L493.32,221.20 L493.95,219.40 L494.56,217.59 L495.15,215.77 L495.71,213.95 L496.25,212.13 L496.77,210.30 L497.27,208.46 L497.74,206.63 L498.19,204.79 L498.61,202.95 L499.01,201.11 L499.39,199.27 L499.75,197.43 L500.08,195.59" stroke="#000" stroke-width="2" fill="none" stroke-linejoin="round" stroke-linecap="round" />
<rect x="384.1" y="174.9" width="127.29999999999995" height="129.4" fill="none" stroke="#4a4a4a" stroke-width="1" />
<line x1="426.4" y1="174.9" x2="426.4" y2="177.9" stroke="#4a4a4a" stroke-width="1"/>
<line x1="426.4" y1="304.3" x2="426.4" y2="301.3" stroke="#4a4a4a" stroke-width="1"/>
<line x1="468.7" y1="174.9" x2="468.7" y2="177.9" stroke="#4a4a4a" stroke-width="1"/>
<line x1="468.7" y1="304.3" x2="468.7" y2="301.3" stroke="#4a4a4a" stroke-width="1"/>
<line x1="384.1" y1="196.6" x2="387.1" y2="196.6" stroke="#4a4a4a" stroke-width="1"/>
<line x1="511.4" y1="196.6" x2="508.4" y2="196.6" stroke="#4a4a4a" stroke-width="1"/>
<line x1="384.1" y1="218.3" x2="387.1" y2="218.3" stroke="#4a4a4a" stroke-width="1"/>
<line x1="511.4" y1="218.3" x2="508.4" y2="218.3" stroke="#4a4a4a" stroke-width="1"/>
<line x1="384.1" y1="240" x2="387.1" y2="240" stroke="#4a4a4a" stroke-width="1"/>
<line x1="511.4" y1="240" x2="508.4" y2="240" stroke="#4a4a4a" stroke-width="1"/>
<line x1="384.1" y1="261.7" x2="387.1" y2="261.7" stroke="#4a4a4a" stroke-width="1"/>
<line x1="511.4" y1="261.7" x2="508.4" y2="261.7" stroke="#4a4a4a" stroke-width="1"/>
<line x1="384.1" y1="283.4" x2="387.1" y2="283.4" stroke="#4a4a4a" stroke-width="1"/>
<line x1="511.4" y1="283.4" x2="508.4" y2="283.4" stroke="#4a4a4a" stroke-width="1"/>
<rect x="403.4" y="291.6" width="3.4" height="3.4" fill="none" stroke="#666" stroke-width="0.8" />
<rect x="488.9" y="215.3" width="3.4" height="3.4" fill="none" stroke="#666" stroke-width="0.8" />
<text x="381" y="180.2" font-size="10.5" text-anchor="end" fill="#161616" >0.3</text>
<text x="381" y="221.8" font-size="10.5" text-anchor="end" fill="#161616" >0.2</text>
<text x="381" y="265.2" font-size="10.5" text-anchor="end" fill="#161616" >0.1</text>
<text x="381" y="307.9" font-size="10.5" text-anchor="end" fill="#161616" >0</text>
<text x="384.3" y="315.6" font-size="10.5" text-anchor="middle" fill="#161616" >0</text>
<text x="426.4" y="315.6" font-size="10.5" text-anchor="middle" fill="#161616" >0.2</text>
<text x="468.6" y="315.6" font-size="10.5" text-anchor="middle" fill="#161616" >0.4</text>
<text x="511.2" y="315.6" font-size="10.5" text-anchor="middle" fill="#161616" >0.6</text>
<text x="383.9" y="327.0" font-size="10.5" text-anchor="start" fill="#161616" >Axial Lagrange strain, E<tspan font-size="6.4" dy="3">22</tspan></text>
<text x="362.7" y="236.3" font-size="10.5" text-anchor="middle" fill="#161616" transform="rotate(-90 362.7 236.3)" >Axial stress, &#963;<tspan font-size="6.4" dy="3">11</tspan><tspan dy="-3"> [MPa]</tspan></text>
<path d="M551.11,303.72 L552.64,302.26 L554.17,300.80 L555.69,299.34 L557.21,297.87 L558.73,296.40 L560.24,294.94 L561.76,293.46 L563.27,291.99 L564.78,290.52 L566.29,289.04 L567.79,287.56 L569.30,286.08 L570.80,284.60 L572.30,283.11 L573.80,281.63 L575.29,280.14 L576.79,278.65 L578.28,277.16 L579.77,275.66 L581.26,274.17 L582.75,272.67 L584.24,271.18 L585.72,269.68 L587.20,268.18 L588.69,266.68 L590.17,265.17 L591.65,263.67 L593.12,262.16 L594.60,260.65 L596.07,259.15 L597.55,257.64 L599.02,256.13 L600.49,254.61 L601.96,253.10 L603.43,251.59 L604.90,250.07 L606.37,248.56 L607.84,247.04 L609.30,245.52 L610.77,244.00 L612.23,242.48 L613.69,240.96 L615.15,239.44 L616.62,237.92 L618.08,236.40 L619.54,234.88 L621.00,233.35 L622.46,231.83 L623.91,230.30 L625.37,228.78 L626.83,227.25 L628.29,225.73 L629.74,224.20 L631.20,222.67 L632.65,221.15 L634.11,219.62 L635.56,218.09 L637.02,216.56 L638.47,215.03 L639.93,213.51 L641.38,211.98 L642.84,210.45 L644.29,208.92 L645.75,207.39 L647.20,205.87 L648.66,204.34 L650.11,202.81 L651.57,201.28 L653.02,199.75 L654.48,198.23 L655.93,196.70 L657.39,195.17 L658.85,193.65 L660.30,192.12 L661.76,190.59 L663.22,189.07 L664.67,187.54 L666.13,186.02 L667.59,184.50" stroke="#000" stroke-width="2" fill="none" stroke-linejoin="round" stroke-linecap="round" />
<path d="M667.95,183.69 L666.15,183.69 L664.39,183.75 L662.65,183.89 L660.94,184.09 L659.26,184.36 L657.60,184.69 L655.97,185.08 L654.36,185.52 L652.78,186.03 L651.22,186.58 L649.68,187.19 L648.17,187.85 L646.67,188.56 L645.20,189.31 L643.75,190.11 L642.32,190.95 L640.91,191.83 L639.51,192.74 L638.14,193.70 L636.78,194.68 L635.44,195.71 L634.12,196.76 L632.81,197.83 L631.52,198.94 L630.24,200.07 L628.97,201.22 L627.72,202.39 L626.48,203.58 L625.26,204.79 L624.04,206.01 L622.84,207.25 L621.65,208.49 L620.47,209.75 L619.29,211.01 L618.13,212.28 L616.98,213.56 L615.83,214.85 L614.70,216.14 L613.57,217.44 L612.45,218.75 L611.34,220.07 L610.24,221.39 L609.15,222.72 L608.07,224.06 L606.99,225.40 L605.92,226.75 L604.87,228.11 L603.81,229.47 L602.77,230.83 L601.73,232.20 L600.70,233.57 L599.68,234.95 L598.66,236.33 L597.65,237.72 L596.65,239.10 L595.65,240.50 L594.66,241.89 L593.68,243.29 L592.70,244.69 L591.72,246.09 L590.76,247.50 L589.79,248.90 L588.84,250.31 L587.89,251.72 L586.94,253.13 L586.00,254.54 L585.06,255.95 L584.13,257.36 L583.20,258.77 L582.27,260.18 L581.35,261.59 L580.44,263.00 L579.52,264.41 L578.61,265.81 L577.71,267.22 L576.81,268.62 L575.91,270.02 L575.01,271.42 L574.11,272.82" stroke="#000" stroke-width="2" fill="none" stroke-linejoin="round" stroke-linecap="round" />
<rect x="551.1" y="174.6" width="129.39999999999998" height="129.70000000000002" fill="none" stroke="#4a4a4a" stroke-width="1" />
<line x1="593.9" y1="174.6" x2="593.9" y2="177.6" stroke="#4a4a4a" stroke-width="1"/>
<line x1="593.9" y1="304.3" x2="593.9" y2="301.3" stroke="#4a4a4a" stroke-width="1"/>
<line x1="636.7" y1="174.6" x2="636.7" y2="177.6" stroke="#4a4a4a" stroke-width="1"/>
<line x1="636.7" y1="304.3" x2="636.7" y2="301.3" stroke="#4a4a4a" stroke-width="1"/>
<line x1="551.1" y1="217.2" x2="554.1" y2="217.2" stroke="#4a4a4a" stroke-width="1"/>
<line x1="680.5" y1="217.2" x2="677.5" y2="217.2" stroke="#4a4a4a" stroke-width="1"/>
<line x1="551.1" y1="260.7" x2="554.1" y2="260.7" stroke="#4a4a4a" stroke-width="1"/>
<line x1="680.5" y1="260.7" x2="677.5" y2="260.7" stroke="#4a4a4a" stroke-width="1"/>
<text x="548.5" y="220.6" font-size="10.5" text-anchor="end" fill="#161616" >0.1</text>
<text x="548.5" y="307.8" font-size="10.5" text-anchor="end" fill="#161616" >0</text>
<text x="551.1" y="315.6" font-size="10.5" text-anchor="middle" fill="#161616" >0</text>
<text x="593.9" y="315.6" font-size="10.5" text-anchor="middle" fill="#161616" >0.2</text>
<text x="636.7" y="315.6" font-size="10.5" text-anchor="middle" fill="#161616" >0.4</text>
<text x="679.2" y="315.6" font-size="10.5" text-anchor="middle" fill="#161616" >0.6</text>
<text x="554.9" y="327.0" font-size="10.5" text-anchor="start" fill="#161616" >Axial Lagrange strain, E<tspan font-size="6.4" dy="3">22</tspan></text>
<text x="532.2" y="249.5" font-size="10.5" text-anchor="middle" fill="#161616" transform="rotate(-90 532.2 249.5)" >Transverse Lagrange strain, E<tspan font-size="6.4" dy="3">11</tspan></text>
</svg>
</body></html>
